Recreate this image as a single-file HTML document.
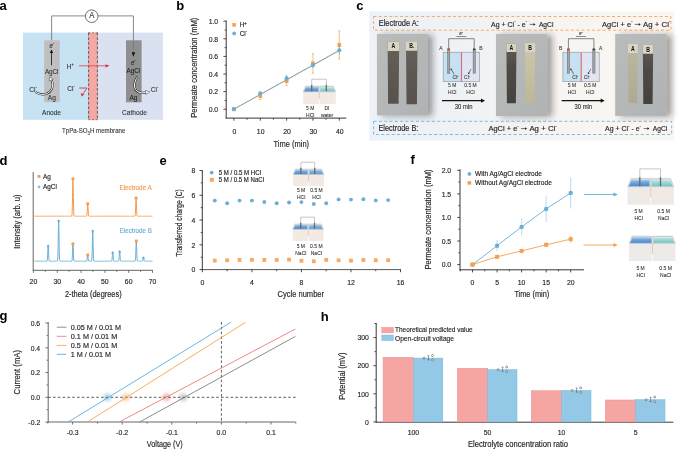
<!DOCTYPE html><html><head><meta charset="utf-8"><style>html,body{margin:0;padding:0;background:#fff;overflow:hidden}svg{display:block}text{font-family:"Liberation Sans",sans-serif}</style></head><body>
<svg width="685" height="449" viewBox="0 0 685 449" style="will-change:transform;filter:blur(0.3px)">
<defs>
<linearGradient id="cbg" x1="0" y1="0" x2="1" y2="0"><stop offset="0" stop-color="#ecf2f7"/><stop offset="0.3" stop-color="#eff2f5"/><stop offset="0.6" stop-color="#f7f4f1"/><stop offset="1" stop-color="#fbf6f2"/></linearGradient>
<filter id="sh" x="-30%" y="-20%" width="170%" height="150%"><feDropShadow dx="5" dy="0.8" stdDeviation="3" flood-color="#222" flood-opacity="0.42"/></filter>
<filter id="bl" x="-50%" y="-50%" width="200%" height="200%"><feGaussianBlur stdDeviation="1.6"/></filter>
<linearGradient id="pbg" x1="0" y1="0" x2="1" y2="1"><stop offset="0" stop-color="#b9bcbb"/><stop offset="1" stop-color="#b0b3b3"/></linearGradient>
<linearGradient id="sd1" x1="0" y1="0" x2="0" y2="1"><stop offset="0" stop-color="#67625c"/><stop offset="0.5" stop-color="#5d5852"/><stop offset="1" stop-color="#57524d"/></linearGradient>
<linearGradient id="sd2" x1="0" y1="0" x2="0" y2="1"><stop offset="0" stop-color="#605c57"/><stop offset="0.4" stop-color="#4e4b47"/><stop offset="1" stop-color="#45423e"/></linearGradient>
<linearGradient id="sl2" x1="0" y1="0" x2="0" y2="1"><stop offset="0" stop-color="#cdc8aa"/><stop offset="1" stop-color="#bcb797"/></linearGradient>
<linearGradient id="sl3" x1="0" y1="0" x2="0" y2="1"><stop offset="0" stop-color="#bdb9a0"/><stop offset="1" stop-color="#adaa91"/></linearGradient>
<linearGradient id="tank" x1="0" y1="0" x2="0" y2="1"><stop offset="0" stop-color="#efe7e0"/><stop offset="1" stop-color="#f6f1ec"/></linearGradient>
<linearGradient id="liqB" x1="0" y1="0" x2="0" y2="1"><stop offset="0" stop-color="#b0d2ef"/><stop offset="0.35" stop-color="#70a8de"/><stop offset="1" stop-color="#4586cd"/></linearGradient>
<linearGradient id="liqB2" x1="0" y1="0" x2="0" y2="1"><stop offset="0" stop-color="#bcd9ee"/><stop offset="0.35" stop-color="#7fb2dc"/><stop offset="1" stop-color="#5d9bd0"/></linearGradient>
<linearGradient id="liqT" x1="0" y1="0" x2="0" y2="1"><stop offset="0" stop-color="#d2efed"/><stop offset="0.35" stop-color="#9fd9d7"/><stop offset="1" stop-color="#74c2c4"/></linearGradient>
</defs>
<text x="-0.6" y="9.6" font-size="13" font-weight="bold" fill="#000">a</text>
<rect x="23.00" y="32.60" width="65.50" height="87.20" fill="#c6e2f3" />
<rect x="97.50" y="32.60" width="65.50" height="87.20" fill="#dae2f2" />
<rect x="88.40" y="32.60" width="9.20" height="87.20" fill="#f5a7a4" />
<line x1="88.60" y1="32.60" x2="88.60" y2="120.00" stroke="#4a4a4a" stroke-width="0.85" stroke-dasharray="3,1.6"/>
<line x1="97.40" y1="32.60" x2="97.40" y2="120.00" stroke="#4a4a4a" stroke-width="0.85" stroke-dasharray="3,1.6"/>
<line x1="88.40" y1="32.90" x2="97.60" y2="32.90" stroke="#4a4a4a" stroke-width="0.7" stroke-dasharray="2,1.6"/>
<line x1="88.40" y1="119.70" x2="97.60" y2="119.70" stroke="#4a4a4a" stroke-width="0.7" stroke-dasharray="2,1.6"/>
<rect x="44.10" y="40.30" width="15.60" height="62.00" fill="#bfbfbf" />
<rect x="126.00" y="40.30" width="15.60" height="62.00" fill="#8f8f8f" />
<path d="M51.6,40.3 V15.9 H85.4" fill="none" stroke="#7a7a7a" stroke-width="0.9" />
<path d="M98,15.9 H133.4 V53" fill="none" stroke="#7a7a7a" stroke-width="0.9" />
<circle cx="91.70" cy="16.20" r="6.30" fill="#fff" stroke="#444" stroke-width="0.75"/>
<text transform="translate(91.80,15.50) scale(0.89,1)" y="2.96" font-size="8.6" text-anchor="middle" fill="#333" stroke="#333" stroke-width="0.1" >A</text>
<path d="M131.6,52.2 L135.2,52.2 L133.4,56.8 Z" fill="#111" stroke="none" stroke-width="1" />
<text transform="translate(51.80,45.30) scale(0.89,1)" y="2.34" font-size="6.8" text-anchor="middle" fill="#222" stroke="#222" stroke-width="0.1" font-style="italic">e<tspan font-size="4.5" dy="-2.8">-</tspan></text>
<line x1="51.50" y1="65.30" x2="51.50" y2="52.50" stroke="#111" stroke-width="0.8" />
<path d="M49.8,53 L53.2,53 L51.5,49.5 Z" fill="#111" stroke="none" stroke-width="1" />
<text transform="translate(51.70,71.00)" y="2.55" font-size="7.4" text-anchor="middle" fill="#333" stroke="#333" stroke-width="0.1" textLength="13.6" lengthAdjust="spacingAndGlyphs" >AgCl</text>
<text transform="translate(51.90,97.40) scale(0.89,1)" y="2.55" font-size="7.4" text-anchor="middle" fill="#333" stroke="#333" stroke-width="0.1" >Ag</text>
<text transform="translate(33.00,89.00) scale(0.89,1)" y="2.55" font-size="7.4" text-anchor="middle" fill="#333" stroke="#333" stroke-width="0.1" >Cl<tspan font-size="4.5" dy="-2.8">-</tspan></text>
<path d="M35.6,92.2 C39,94.5 42,94.6 45,94.2 C48.5,93.5 51.5,91 52.4,87 C53,84.5 52.6,82.2 51.6,80.2" fill="none" stroke="#2a2a2a" stroke-width="2.1" />
<path d="M35.6,92.2 C39,94.5 42,94.6 45,94.2 C48.5,93.5 51.5,91 52.4,87 C53,84.5 52.6,82.2 51.6,80.2" fill="none" stroke="#fff" stroke-width="1.0" />
<path d="M49.7,76.9 L53.2,79.3 L49.2,80.9 Z" fill="#fff" stroke="#2a2a2a" stroke-width="0.45" />
<text transform="translate(70.30,66.00) scale(0.89,1)" y="2.55" font-size="7.4" text-anchor="middle" fill="#333" stroke="#333" stroke-width="0.1" >H<tspan font-size="4.5" dy="-2.6">+</tspan></text>
<text transform="translate(71.00,88.60) scale(0.89,1)" y="2.55" font-size="7.4" text-anchor="middle" fill="#333" stroke="#333" stroke-width="0.1" >Cl<tspan font-size="4.5" dy="-2.8">-</tspan></text>
<line x1="79.00" y1="65.80" x2="106.50" y2="65.80" stroke="#e0505a" stroke-width="0.9" />
<path d="M105.5,64.2 L109.5,65.8 L105.5,67.4 Z" fill="#d9303d" stroke="none" stroke-width="1" />
<path d="M79.3,88 L87,88 L82.5,94.5" fill="none" stroke="#d9303d" stroke-width="0.9" />
<path d="M80.7,93.2 L81.6,96.6 L84.3,94.6 Z" fill="#d9303d" stroke="none" stroke-width="1" />
<text transform="translate(133.30,62.80) scale(0.89,1)" y="2.34" font-size="6.8" text-anchor="middle" fill="#222" stroke="#222" stroke-width="0.1" font-style="italic">e<tspan font-size="4.5" dy="-2.8">-</tspan></text>
<text transform="translate(133.40,70.70)" y="2.55" font-size="7.4" text-anchor="middle" fill="#222" stroke="#222" stroke-width="0.1" textLength="13.6" lengthAdjust="spacingAndGlyphs" >AgCl</text>
<text transform="translate(133.50,97.20) scale(0.89,1)" y="2.55" font-size="7.4" text-anchor="middle" fill="#222" stroke="#222" stroke-width="0.1" >Ag</text>
<path d="M137.8,76.6 C135.5,79 134.2,83 134.6,87 C135.2,90.5 138,92.6 141.5,92.8 L146,92.6" fill="none" stroke="#2a2a2a" stroke-width="2.1" />
<path d="M137.8,76.6 C135.5,79 134.2,83 134.6,87 C135.2,90.5 138,92.6 141.5,92.8 L146,92.6" fill="none" stroke="#fff" stroke-width="1.0" />
<path d="M145.6,90.4 L149.9,91.9 L146,94.5 Z" fill="#fff" stroke="#2a2a2a" stroke-width="0.45" />
<text transform="translate(154.60,89.40) scale(0.89,1)" y="2.55" font-size="7.4" text-anchor="middle" fill="#333" stroke="#333" stroke-width="0.1" >Cl<tspan font-size="4.5" dy="-2.8">-</tspan></text>
<text transform="translate(51.50,112.30)" y="2.55" font-size="7.4" text-anchor="middle" fill="#333" stroke="#333" stroke-width="0.1" textLength="19" lengthAdjust="spacingAndGlyphs" >Anode</text>
<text transform="translate(134.50,112.40) scale(0.89,1)" y="2.55" font-size="7.4" text-anchor="middle" fill="#333" stroke="#333" stroke-width="0.1" >Cathode</text>
<text transform="translate(93.70,130.65)" y="2.34" font-size="6.8" text-anchor="middle" fill="#333" stroke="#333" stroke-width="0.1" textLength="63.4" lengthAdjust="spacingAndGlyphs" >TpPa-SO<tspan font-size="4.6" dy="1.8">3</tspan><tspan dy="-1.8">H membrane</tspan></text>
<text x="176.3" y="9.6" font-size="13" font-weight="bold" fill="#000">b</text>
<line x1="226.20" y1="20.50" x2="226.20" y2="118.50" stroke="#231f20" stroke-width="0.9" />
<line x1="225.80" y1="118.10" x2="346.30" y2="118.10" stroke="#231f20" stroke-width="0.9" />
<line x1="223.40" y1="109.20" x2="226.20" y2="109.20" stroke="#231f20" stroke-width="0.8" />
<line x1="224.60" y1="100.40" x2="226.20" y2="100.40" stroke="#231f20" stroke-width="0.8" />
<line x1="223.40" y1="91.60" x2="226.20" y2="91.60" stroke="#231f20" stroke-width="0.8" />
<line x1="224.60" y1="82.80" x2="226.20" y2="82.80" stroke="#231f20" stroke-width="0.8" />
<line x1="223.40" y1="74.00" x2="226.20" y2="74.00" stroke="#231f20" stroke-width="0.8" />
<line x1="224.60" y1="65.20" x2="226.20" y2="65.20" stroke="#231f20" stroke-width="0.8" />
<line x1="223.40" y1="56.40" x2="226.20" y2="56.40" stroke="#231f20" stroke-width="0.8" />
<line x1="224.60" y1="47.60" x2="226.20" y2="47.60" stroke="#231f20" stroke-width="0.8" />
<line x1="223.40" y1="38.80" x2="226.20" y2="38.80" stroke="#231f20" stroke-width="0.8" />
<line x1="224.60" y1="30.00" x2="226.20" y2="30.00" stroke="#231f20" stroke-width="0.8" />
<line x1="223.40" y1="21.20" x2="226.20" y2="21.20" stroke="#231f20" stroke-width="0.8" />
<text transform="translate(218.20,109.20) scale(0.86,1)" y="2.75" font-size="8" text-anchor="end" fill="#231f20" stroke="#231f20" stroke-width="0.16" >0.0</text>
<text transform="translate(218.20,91.60) scale(0.86,1)" y="2.75" font-size="8" text-anchor="end" fill="#231f20" stroke="#231f20" stroke-width="0.16" >0.2</text>
<text transform="translate(218.20,74.00) scale(0.86,1)" y="2.75" font-size="8" text-anchor="end" fill="#231f20" stroke="#231f20" stroke-width="0.16" >0.4</text>
<text transform="translate(218.20,56.40) scale(0.86,1)" y="2.75" font-size="8" text-anchor="end" fill="#231f20" stroke="#231f20" stroke-width="0.16" >0.6</text>
<text transform="translate(218.20,38.80) scale(0.86,1)" y="2.75" font-size="8" text-anchor="end" fill="#231f20" stroke="#231f20" stroke-width="0.16" >0.8</text>
<text transform="translate(218.20,21.20) scale(0.86,1)" y="2.75" font-size="8" text-anchor="end" fill="#231f20" stroke="#231f20" stroke-width="0.16" >1.0</text>
<line x1="233.90" y1="118.10" x2="233.90" y2="120.70" stroke="#231f20" stroke-width="0.8" />
<line x1="247.08" y1="118.10" x2="247.08" y2="119.70" stroke="#231f20" stroke-width="0.8" />
<line x1="260.25" y1="118.10" x2="260.25" y2="120.70" stroke="#231f20" stroke-width="0.8" />
<line x1="273.43" y1="118.10" x2="273.43" y2="119.70" stroke="#231f20" stroke-width="0.8" />
<line x1="286.60" y1="118.10" x2="286.60" y2="120.70" stroke="#231f20" stroke-width="0.8" />
<line x1="299.77" y1="118.10" x2="299.77" y2="119.70" stroke="#231f20" stroke-width="0.8" />
<line x1="312.95" y1="118.10" x2="312.95" y2="120.70" stroke="#231f20" stroke-width="0.8" />
<line x1="326.12" y1="118.10" x2="326.12" y2="119.70" stroke="#231f20" stroke-width="0.8" />
<line x1="339.30" y1="118.10" x2="339.30" y2="120.70" stroke="#231f20" stroke-width="0.8" />
<text transform="translate(234.30,131.70) scale(0.86,1)" y="2.75" font-size="8" text-anchor="middle" fill="#231f20" stroke="#231f20" stroke-width="0.16" >0</text>
<text transform="translate(260.65,131.70) scale(0.86,1)" y="2.75" font-size="8" text-anchor="middle" fill="#231f20" stroke="#231f20" stroke-width="0.16" >10</text>
<text transform="translate(287.00,131.70) scale(0.86,1)" y="2.75" font-size="8" text-anchor="middle" fill="#231f20" stroke="#231f20" stroke-width="0.16" >20</text>
<text transform="translate(313.35,131.70) scale(0.86,1)" y="2.75" font-size="8" text-anchor="middle" fill="#231f20" stroke="#231f20" stroke-width="0.16" >30</text>
<text transform="translate(339.70,131.70) scale(0.86,1)" y="2.75" font-size="8" text-anchor="middle" fill="#231f20" stroke="#231f20" stroke-width="0.16" >40</text>
<text transform="translate(291.30,144.10)" y="2.89" font-size="8.4" text-anchor="middle" fill="#231f20" stroke="#231f20" stroke-width="0.16" textLength="35.5" lengthAdjust="spacingAndGlyphs" >Time (min)</text>
<text transform="translate(194.10,67.70) rotate(-90)" y="2.89" font-size="8.4" text-anchor="middle" fill="#231f20" stroke="#231f20" stroke-width="0.16" textLength="100" lengthAdjust="spacingAndGlyphs" >Permeate concentration (mM)</text>
<rect x="232.30" y="23.10" width="3.60" height="3.60" fill="#f5a04a" />
<text transform="translate(239.70,24.90) scale(0.89,1)" y="2.48" font-size="7.2" text-anchor="start" fill="#231f20" stroke="#231f20" stroke-width="0.16" >H<tspan font-size="4.6" dy="-2.6">+</tspan></text>
<circle cx="234.20" cy="33.40" r="1.90" fill="#6aafd6" />
<text transform="translate(239.70,33.40) scale(0.89,1)" y="2.48" font-size="7.2" text-anchor="start" fill="#231f20" stroke="#231f20" stroke-width="0.16" >Cl<tspan font-size="4.6" dy="-2.6">-</tspan></text>
<line x1="233.90" y1="109.20" x2="339.30" y2="50.68" stroke="#f5a04a" stroke-width="0.9" />
<line x1="233.90" y1="109.20" x2="339.30" y2="50.24" stroke="#6aafd6" stroke-width="0.9" />
<rect x="232.00" y="107.30" width="3.80" height="3.80" fill="#f5a04a" />
<line x1="260.25" y1="92.48" x2="260.25" y2="99.52" stroke="#f5a04a" stroke-width="0.7" />
<line x1="259.25" y1="92.48" x2="261.25" y2="92.48" stroke="#f5a04a" stroke-width="0.7" />
<line x1="259.25" y1="99.52" x2="261.25" y2="99.52" stroke="#f5a04a" stroke-width="0.7" />
<rect x="258.35" y="94.10" width="3.80" height="3.80" fill="#f5a04a" />
<line x1="286.60" y1="76.64" x2="286.60" y2="85.44" stroke="#f5a04a" stroke-width="0.7" />
<line x1="285.60" y1="76.64" x2="287.60" y2="76.64" stroke="#f5a04a" stroke-width="0.7" />
<line x1="285.60" y1="85.44" x2="287.60" y2="85.44" stroke="#f5a04a" stroke-width="0.7" />
<rect x="284.70" y="79.14" width="3.80" height="3.80" fill="#f5a04a" />
<line x1="312.95" y1="53.76" x2="312.95" y2="73.12" stroke="#f5a04a" stroke-width="0.7" />
<line x1="311.95" y1="53.76" x2="313.95" y2="53.76" stroke="#f5a04a" stroke-width="0.7" />
<line x1="311.95" y1="73.12" x2="313.95" y2="73.12" stroke="#f5a04a" stroke-width="0.7" />
<rect x="311.05" y="61.54" width="3.80" height="3.80" fill="#f5a04a" />
<line x1="339.30" y1="30.88" x2="339.30" y2="59.04" stroke="#f5a04a" stroke-width="0.7" />
<line x1="338.30" y1="30.88" x2="340.30" y2="30.88" stroke="#f5a04a" stroke-width="0.7" />
<line x1="338.30" y1="59.04" x2="340.30" y2="59.04" stroke="#f5a04a" stroke-width="0.7" />
<rect x="337.40" y="43.06" width="3.80" height="3.80" fill="#f5a04a" />
<circle cx="233.90" cy="109.20" r="2.10" fill="#6aafd6" />
<line x1="260.25" y1="91.60" x2="260.25" y2="95.12" stroke="#6aafd6" stroke-width="0.7" />
<circle cx="260.25" cy="93.36" r="2.10" fill="#6aafd6" />
<line x1="286.60" y1="74.88" x2="286.60" y2="81.92" stroke="#6aafd6" stroke-width="0.7" />
<circle cx="286.60" cy="78.40" r="2.10" fill="#6aafd6" />
<line x1="312.95" y1="62.56" x2="312.95" y2="67.84" stroke="#6aafd6" stroke-width="0.7" />
<circle cx="312.95" cy="65.20" r="2.10" fill="#6aafd6" />
<line x1="339.30" y1="45.84" x2="339.30" y2="54.64" stroke="#6aafd6" stroke-width="0.7" />
<circle cx="339.30" cy="50.24" r="2.10" fill="#6aafd6" />
<text x="356.3" y="9.6" font-size="13" font-weight="bold" fill="#000">c</text>
<rect x="369.30" y="11.50" width="304.90" height="129.00" fill="url(#cbg)" />
<rect x="373.5" y="16.5" width="297.4" height="13.7" fill="none" stroke="#f5a55a" stroke-width="0.9" stroke-dasharray="3,2.3"/>
<rect x="373.6" y="121.3" width="298.1" height="13.2" fill="none" stroke="#6cb6e2" stroke-width="0.9" stroke-dasharray="3,2.3"/>
<text transform="translate(378.70,23.10)" y="2.89" font-size="8.4" text-anchor="start" fill="#231f20" stroke="#231f20" stroke-width="0.16" textLength="40.1" lengthAdjust="spacingAndGlyphs" >Electrode A:</text>
<text transform="translate(378.50,128.20)" y="2.89" font-size="8.4" text-anchor="start" fill="#231f20" stroke="#231f20" stroke-width="0.16" textLength="39.8" lengthAdjust="spacingAndGlyphs" >Electrode B:</text>
<text transform="translate(491.10,24.00)" y="2.70" font-size="7.85" text-anchor="start" fill="#231f20" stroke="#231f20" stroke-width="0.16" textLength="36" lengthAdjust="spacingAndGlyphs" >Ag + Cl<tspan font-size="4.8" dy="-3.3">-</tspan><tspan dy="3.3"> </tspan>- e<tspan font-size="4.8" dy="-3.3">-</tspan><tspan dy="3.3"> </tspan></text>
<line x1="529.70" y1="24.40" x2="533.90" y2="24.40" stroke="#231f20" stroke-width="0.6" />
<path d="M533.50,23.10 L535.50,24.40 L533.50,25.70 Z" fill="#231f20" stroke="none" stroke-width="1" />
<text transform="translate(538.90,24.00)" y="2.70" font-size="7.85" text-anchor="start" fill="#231f20" stroke="#231f20" stroke-width="0.16" textLength="14.5" lengthAdjust="spacingAndGlyphs" >AgCl</text>
<text transform="translate(602.10,24.00)" y="2.70" font-size="7.85" text-anchor="start" fill="#231f20" stroke="#231f20" stroke-width="0.16" textLength="30.5" lengthAdjust="spacingAndGlyphs" >AgCl + e<tspan font-size="4.8" dy="-3.3">-</tspan><tspan dy="3.3"> </tspan></text>
<line x1="634.70" y1="24.40" x2="639.10" y2="24.40" stroke="#231f20" stroke-width="0.6" />
<path d="M638.70,23.10 L640.70,24.40 L638.70,25.70 Z" fill="#231f20" stroke="none" stroke-width="1" />
<text transform="translate(643.10,24.00)" y="2.70" font-size="7.85" text-anchor="start" fill="#231f20" stroke="#231f20" stroke-width="0.16" textLength="27.5" lengthAdjust="spacingAndGlyphs" >Ag + Cl<tspan font-size="4.8" dy="-3.3">-</tspan><tspan dy="3.3"> </tspan></text>
<text transform="translate(488.40,128.20)" y="2.70" font-size="7.85" text-anchor="start" fill="#231f20" stroke="#231f20" stroke-width="0.16" textLength="30.5" lengthAdjust="spacingAndGlyphs" >AgCl + e<tspan font-size="4.8" dy="-3.3">-</tspan><tspan dy="3.3"> </tspan></text>
<line x1="521.00" y1="128.60" x2="525.40" y2="128.60" stroke="#231f20" stroke-width="0.6" />
<path d="M525.00,127.30 L527.00,128.60 L525.00,129.90 Z" fill="#231f20" stroke="none" stroke-width="1" />
<text transform="translate(529.40,128.20)" y="2.70" font-size="7.85" text-anchor="start" fill="#231f20" stroke="#231f20" stroke-width="0.16" textLength="27.5" lengthAdjust="spacingAndGlyphs" >Ag + Cl<tspan font-size="4.8" dy="-3.3">-</tspan><tspan dy="3.3"> </tspan></text>
<text transform="translate(605.00,128.20)" y="2.70" font-size="7.85" text-anchor="start" fill="#231f20" stroke="#231f20" stroke-width="0.16" textLength="36" lengthAdjust="spacingAndGlyphs" >Ag + Cl<tspan font-size="4.8" dy="-3.3">-</tspan><tspan dy="3.3"> </tspan>- e<tspan font-size="4.8" dy="-3.3">-</tspan><tspan dy="3.3"> </tspan></text>
<line x1="643.60" y1="128.60" x2="647.80" y2="128.60" stroke="#231f20" stroke-width="0.6" />
<path d="M647.40,127.30 L649.40,128.60 L647.40,129.90 Z" fill="#231f20" stroke="none" stroke-width="1" />
<text transform="translate(652.80,128.20)" y="2.70" font-size="7.85" text-anchor="start" fill="#231f20" stroke="#231f20" stroke-width="0.16" textLength="14.5" lengthAdjust="spacingAndGlyphs" >AgCl</text>
<g filter="url(#sh)"><rect x="377" y="33.9" width="50.8" height="81.5" fill="url(#pbg)"/></g>
<path d="M387.6,41.6 L399.20000000000005,41.6 L398.6,103.80000000000001 L388.1,103.80000000000001 Z" fill="url(#sd1)"/>
<path d="M387.6,41.6 L399.20000000000005,41.6 L399.15000000000003,51.1 L387.6,51.1 Z" fill="#d9d5c3"/>
<text transform="translate(393.40,45.90) scale(0.8,1)" y="2.20" font-size="6.4" text-anchor="middle" fill="#111" font-weight="bold" >A</text>
<path d="M406,41.3 L417.5,41.3 L416.9,104.3 L406.5,104.3 Z" fill="url(#sd1)"/>
<path d="M406,41.3 L417.5,41.3 L417.45,50.8 L406,50.8 Z" fill="#d9d5c3"/>
<text transform="translate(411.75,45.60) scale(0.8,1)" y="2.20" font-size="6.4" text-anchor="middle" fill="#111" font-weight="bold" >B.</text>
<g filter="url(#sh)"><rect x="496" y="33.9" width="51.2" height="82.2" fill="url(#pbg)"/></g>
<path d="M506.4,43.7 L516.5,43.7 L515.9,103.30000000000001 L506.9,103.30000000000001 Z" fill="url(#sd2)"/>
<path d="M506.4,43.7 L516.5,43.7 L516.45,52.0 L506.4,52.0 Z" fill="#d9d5c3"/>
<text transform="translate(511.45,48.00) scale(0.8,1)" y="2.20" font-size="6.4" text-anchor="middle" fill="#111" font-weight="bold" >A</text>
<path d="M525.1,43.2 L535.2,43.2 L534.6,103.2 L525.6,103.2 Z" fill="url(#sl2)"/>
<path d="M525.1,43.2 L535.2,43.2 L535.1500000000001,52.0 L525.1,52.0 Z" fill="#d9d5c3"/>
<text transform="translate(530.15,47.50) scale(0.8,1)" y="2.20" font-size="6.4" text-anchor="middle" fill="#111" font-weight="bold" >B</text>
<g filter="url(#sh)"><rect x="615.2" y="33.9" width="51.4" height="82" fill="url(#pbg)"/></g>
<path d="M628,44 L637.8,44 L637.1999999999999,103.3 L628.5,103.3 Z" fill="url(#sl3)"/>
<path d="M628,44 L637.8,44 L637.75,53 L628,53 Z" fill="#d9d5c3"/>
<text transform="translate(632.90,48.30) scale(0.8,1)" y="2.20" font-size="6.4" text-anchor="middle" fill="#111" font-weight="bold" >A</text>
<path d="M642.8,45 L653.1999999999999,45 L652.5999999999999,104 L643.3,104 Z" fill="url(#sd2)"/>
<path d="M642.8,45 L653.1999999999999,45 L653.15,53.7 L642.8,53.7 Z" fill="#d9d5c3"/>
<text transform="translate(648.00,49.30) scale(0.8,1)" y="2.20" font-size="6.4" text-anchor="middle" fill="#111" font-weight="bold" >B</text>
<rect x="443.20" y="52.20" width="17.90" height="29.50" fill="#c5e1f2" />
<rect x="461.10" y="52.20" width="18.40" height="29.50" fill="#e1e5f3" />
<rect x="443.2" y="52.2" width="36.3" height="29.5" fill="none" stroke="#8c939c" stroke-width="0.6"/>
<line x1="461.50" y1="52.40" x2="461.50" y2="81.50" stroke="#d5707c" stroke-width="1.2" />
<path d="M448.7,49 V38.7 H474.2 V49" fill="none" stroke="#555" stroke-width="0.7" />
<rect x="447.6" y="48.8" width="2.2" height="24.4" fill="#a5a5a5" stroke="#5a5a5a" stroke-width="0.45"/>
<rect x="447.60" y="48.80" width="2.20" height="1.40" fill="#d33" />
<rect x="473.1" y="48.8" width="2.2" height="24.4" fill="#a5a5a5" stroke="#5a5a5a" stroke-width="0.45"/>
<rect x="473.10" y="48.80" width="2.20" height="1.40" fill="#333" />
<text transform="translate(461.00,33.60) scale(0.89,1)" y="1.79" font-size="5.2" text-anchor="middle" fill="#333" stroke="#333" stroke-width="0.08" font-style="italic">e<tspan font-size="3.5" dy="-2">-</tspan></text>
<line x1="456.30" y1="36.50" x2="466.40" y2="36.50" stroke="#444" stroke-width="0.6" />
<text transform="translate(441.00,48.50) scale(0.89,1)" y="1.93" font-size="5.6" text-anchor="middle" fill="#333" stroke="#333" stroke-width="0.08" >A</text>
<text transform="translate(481.00,48.50) scale(0.89,1)" y="1.93" font-size="5.6" text-anchor="middle" fill="#333" stroke="#333" stroke-width="0.08" >B</text>
<line x1="454.10" y1="74.20" x2="451.40" y2="69.50" stroke="#222" stroke-width="0.6" />
<circle cx="451.20" cy="69.20" r="0.80" fill="#222" />
<line x1="468.60" y1="73.50" x2="471.00" y2="69.10" stroke="#222" stroke-width="0.6" />
<circle cx="468.80" cy="73.20" r="0.80" fill="#222" />
<text transform="translate(455.50,76.70) scale(0.89,1)" y="1.93" font-size="5.6" text-anchor="middle" fill="#333" stroke="#333" stroke-width="0.08" >Cl<tspan font-size="3.5" dy="-2">-</tspan></text>
<text transform="translate(467.00,76.70) scale(0.89,1)" y="1.93" font-size="5.6" text-anchor="middle" fill="#333" stroke="#333" stroke-width="0.08" >Cl<tspan font-size="3.5" dy="-2">-</tspan></text>
<text transform="translate(452.20,85.50) scale(0.89,1)" y="1.93" font-size="5.6" text-anchor="middle" fill="#333" stroke="#333" stroke-width="0.08" >5 M</text>
<text transform="translate(452.20,92.20) scale(0.89,1)" y="1.93" font-size="5.6" text-anchor="middle" fill="#333" stroke="#333" stroke-width="0.08" >HCl</text>
<text transform="translate(470.50,85.50) scale(0.89,1)" y="1.93" font-size="5.6" text-anchor="middle" fill="#333" stroke="#333" stroke-width="0.08" >0.5 M</text>
<text transform="translate(470.50,92.20) scale(0.89,1)" y="1.93" font-size="5.6" text-anchor="middle" fill="#333" stroke="#333" stroke-width="0.08" >HCl</text>
<line x1="442.00" y1="100.70" x2="482.00" y2="100.70" stroke="#111" stroke-width="1.3" />
<path d="M481,98.6 L485,100.7 L481,102.8 Z" fill="#111" stroke="none" stroke-width="1" />
<text transform="translate(463.60,106.60) scale(0.89,1)" y="2.27" font-size="6.6" text-anchor="middle" fill="#222" stroke="#222" stroke-width="0.08" >30 min</text>
<rect x="562.90" y="52.20" width="17.90" height="29.50" fill="#c5e1f2" />
<rect x="580.80" y="52.20" width="18.40" height="29.50" fill="#e1e5f3" />
<rect x="562.9" y="52.2" width="36.3" height="29.5" fill="none" stroke="#8c939c" stroke-width="0.6"/>
<line x1="581.20" y1="52.40" x2="581.20" y2="81.50" stroke="#d5707c" stroke-width="1.2" />
<path d="M568.4,49 V38.7 H593.9 V49" fill="none" stroke="#555" stroke-width="0.7" />
<rect x="567.3000000000001" y="48.8" width="2.2" height="24.4" fill="#a5a5a5" stroke="#5a5a5a" stroke-width="0.45"/>
<rect x="567.30" y="48.80" width="2.20" height="1.40" fill="#d33" />
<rect x="592.8000000000001" y="48.8" width="2.2" height="24.4" fill="#a5a5a5" stroke="#5a5a5a" stroke-width="0.45"/>
<rect x="592.80" y="48.80" width="2.20" height="1.40" fill="#333" />
<text transform="translate(580.70,33.60) scale(0.89,1)" y="1.79" font-size="5.2" text-anchor="middle" fill="#333" stroke="#333" stroke-width="0.08" font-style="italic">e<tspan font-size="3.5" dy="-2">-</tspan></text>
<line x1="576.00" y1="36.50" x2="586.10" y2="36.50" stroke="#444" stroke-width="0.6" />
<text transform="translate(560.70,48.50) scale(0.89,1)" y="1.93" font-size="5.6" text-anchor="middle" fill="#333" stroke="#333" stroke-width="0.08" >B</text>
<text transform="translate(600.70,48.50) scale(0.89,1)" y="1.93" font-size="5.6" text-anchor="middle" fill="#333" stroke="#333" stroke-width="0.08" >A</text>
<line x1="573.80" y1="74.20" x2="571.10" y2="69.50" stroke="#222" stroke-width="0.6" />
<circle cx="570.90" cy="69.20" r="0.80" fill="#222" />
<line x1="588.30" y1="73.50" x2="590.70" y2="69.10" stroke="#222" stroke-width="0.6" />
<circle cx="588.50" cy="73.20" r="0.80" fill="#222" />
<text transform="translate(575.20,76.70) scale(0.89,1)" y="1.93" font-size="5.6" text-anchor="middle" fill="#333" stroke="#333" stroke-width="0.08" >Cl<tspan font-size="3.5" dy="-2">-</tspan></text>
<text transform="translate(586.70,76.70) scale(0.89,1)" y="1.93" font-size="5.6" text-anchor="middle" fill="#333" stroke="#333" stroke-width="0.08" >Cl<tspan font-size="3.5" dy="-2">-</tspan></text>
<text transform="translate(571.90,85.50) scale(0.89,1)" y="1.93" font-size="5.6" text-anchor="middle" fill="#333" stroke="#333" stroke-width="0.08" >5 M</text>
<text transform="translate(571.90,92.20) scale(0.89,1)" y="1.93" font-size="5.6" text-anchor="middle" fill="#333" stroke="#333" stroke-width="0.08" >HCl</text>
<text transform="translate(590.20,85.50) scale(0.89,1)" y="1.93" font-size="5.6" text-anchor="middle" fill="#333" stroke="#333" stroke-width="0.08" >0.5 M</text>
<text transform="translate(590.20,92.20) scale(0.89,1)" y="1.93" font-size="5.6" text-anchor="middle" fill="#333" stroke="#333" stroke-width="0.08" >HCl</text>
<line x1="561.70" y1="100.70" x2="601.70" y2="100.70" stroke="#111" stroke-width="1.3" />
<path d="M600.7,98.6 L604.7,100.7 L600.7,102.8 Z" fill="#111" stroke="none" stroke-width="1" />
<text transform="translate(583.30,106.60) scale(0.89,1)" y="2.27" font-size="6.6" text-anchor="middle" fill="#222" stroke="#222" stroke-width="0.08" >30 min</text>
<text x="-0.6" y="164.5" font-size="13" font-weight="bold" fill="#000">d</text>
<line x1="33.20" y1="172.00" x2="33.20" y2="270.60" stroke="#555" stroke-width="0.9" />
<line x1="32.80" y1="270.30" x2="153.00" y2="270.30" stroke="#555" stroke-width="0.9" />
<line x1="33.40" y1="270.30" x2="33.40" y2="272.90" stroke="#555" stroke-width="0.8" />
<line x1="45.31" y1="270.30" x2="45.31" y2="271.90" stroke="#555" stroke-width="0.8" />
<line x1="57.22" y1="270.30" x2="57.22" y2="272.90" stroke="#555" stroke-width="0.8" />
<line x1="69.13" y1="270.30" x2="69.13" y2="271.90" stroke="#555" stroke-width="0.8" />
<line x1="81.04" y1="270.30" x2="81.04" y2="272.90" stroke="#555" stroke-width="0.8" />
<line x1="92.95" y1="270.30" x2="92.95" y2="271.90" stroke="#555" stroke-width="0.8" />
<line x1="104.86" y1="270.30" x2="104.86" y2="272.90" stroke="#555" stroke-width="0.8" />
<line x1="116.77" y1="270.30" x2="116.77" y2="271.90" stroke="#555" stroke-width="0.8" />
<line x1="128.68" y1="270.30" x2="128.68" y2="272.90" stroke="#555" stroke-width="0.8" />
<line x1="140.59" y1="270.30" x2="140.59" y2="271.90" stroke="#555" stroke-width="0.8" />
<line x1="152.50" y1="270.30" x2="152.50" y2="272.90" stroke="#555" stroke-width="0.8" />
<text transform="translate(33.40,281.70) scale(0.86,1)" y="2.75" font-size="8" text-anchor="middle" fill="#231f20" stroke="#231f20" stroke-width="0.16" >20</text>
<text transform="translate(57.22,281.70) scale(0.86,1)" y="2.75" font-size="8" text-anchor="middle" fill="#231f20" stroke="#231f20" stroke-width="0.16" >30</text>
<text transform="translate(81.04,281.70) scale(0.86,1)" y="2.75" font-size="8" text-anchor="middle" fill="#231f20" stroke="#231f20" stroke-width="0.16" >40</text>
<text transform="translate(104.86,281.70) scale(0.86,1)" y="2.75" font-size="8" text-anchor="middle" fill="#231f20" stroke="#231f20" stroke-width="0.16" >50</text>
<text transform="translate(128.68,281.70) scale(0.86,1)" y="2.75" font-size="8" text-anchor="middle" fill="#231f20" stroke="#231f20" stroke-width="0.16" >60</text>
<text transform="translate(152.50,281.70) scale(0.86,1)" y="2.75" font-size="8" text-anchor="middle" fill="#231f20" stroke="#231f20" stroke-width="0.16" >70</text>
<text transform="translate(93.25,294.50)" y="2.89" font-size="8.4" text-anchor="middle" fill="#231f20" stroke="#231f20" stroke-width="0.16" textLength="56.7" lengthAdjust="spacingAndGlyphs" >2-theta (degrees)</text>
<text transform="translate(17.40,221.70) rotate(-90)" y="2.89" font-size="8.4" text-anchor="middle" fill="#231f20" stroke="#231f20" stroke-width="0.16" textLength="54.2" lengthAdjust="spacingAndGlyphs" >Intensity (arb. u)</text>
<polyline points="33.40,216.20 33.60,216.20 33.80,216.20 34.00,216.20 34.19,216.20 34.39,216.20 34.59,216.20 34.79,216.20 34.99,216.20 35.19,216.20 35.38,216.20 35.58,216.20 35.78,216.20 35.98,216.20 36.18,216.20 36.38,216.20 36.58,216.20 36.77,216.20 36.97,216.20 37.17,216.20 37.37,216.20 37.57,216.20 37.77,216.20 37.97,216.20 38.16,216.20 38.36,216.20 38.56,216.20 38.76,216.20 38.96,216.20 39.16,216.20 39.35,216.20 39.55,216.20 39.75,216.20 39.95,216.20 40.15,216.20 40.35,216.20 40.55,216.20 40.74,216.20 40.94,216.20 41.14,216.20 41.34,216.20 41.54,216.20 41.74,216.20 41.94,216.20 42.13,216.20 42.33,216.20 42.53,216.20 42.73,216.20 42.93,216.20 43.13,216.20 43.33,216.20 43.52,216.20 43.72,216.20 43.92,216.20 44.12,216.20 44.32,216.20 44.52,216.20 44.71,216.20 44.91,216.20 45.11,216.20 45.31,216.20 45.51,216.20 45.71,216.20 45.91,216.20 46.10,216.20 46.30,216.20 46.50,216.20 46.70,216.20 46.90,216.20 47.10,216.20 47.29,216.20 47.49,216.20 47.69,216.20 47.89,216.20 48.09,216.20 48.29,216.20 48.49,216.20 48.68,216.20 48.88,216.20 49.08,216.20 49.28,216.20 49.48,216.20 49.68,216.20 49.88,216.20 50.07,216.20 50.27,216.20 50.47,216.20 50.67,216.20 50.87,216.20 51.07,216.20 51.27,216.20 51.46,216.20 51.66,216.20 51.86,216.20 52.06,216.20 52.26,216.20 52.46,216.20 52.65,216.20 52.85,216.20 53.05,216.20 53.25,216.20 53.45,216.20 53.65,216.20 53.85,216.20 54.04,216.20 54.24,216.20 54.44,216.20 54.64,216.20 54.84,216.20 55.04,216.20 55.23,216.20 55.43,216.20 55.63,216.20 55.83,216.20 56.03,216.20 56.23,216.20 56.43,216.20 56.62,216.20 56.82,216.20 57.02,216.20 57.22,216.20 57.42,216.20 57.62,216.20 57.82,216.20 58.01,216.20 58.21,216.20 58.41,216.20 58.61,216.20 58.81,216.20 59.01,216.20 59.20,216.20 59.40,216.20 59.60,216.20 59.80,216.20 60.00,216.20 60.20,216.20 60.40,216.20 60.59,216.20 60.79,216.20 60.99,216.20 61.19,216.20 61.39,216.20 61.59,216.20 61.79,216.20 61.98,216.20 62.18,216.20 62.38,216.20 62.58,216.20 62.78,216.20 62.98,216.20 63.17,216.20 63.37,216.20 63.57,216.20 63.77,216.20 63.97,216.20 64.17,216.20 64.37,216.20 64.56,216.20 64.76,216.20 64.96,216.20 65.16,216.20 65.36,216.20 65.56,216.20 65.76,216.20 65.95,216.20 66.15,216.20 66.35,216.20 66.55,216.20 66.75,216.20 66.95,216.20 67.14,216.20 67.34,216.20 67.54,216.20 67.74,216.20 67.94,216.20 68.14,216.20 68.34,216.20 68.53,216.20 68.73,216.20 68.93,216.20 69.13,216.20 69.33,216.20 69.53,216.20 69.73,216.20 69.92,216.20 70.12,216.20 70.32,216.20 70.52,216.20 70.72,216.20 70.92,216.20 71.12,216.20 71.31,216.20 71.51,216.18 71.71,216.05 71.91,215.43 72.11,213.24 72.31,207.64 72.50,197.62 72.70,185.94 72.90,179.21 73.10,182.26 73.30,192.83 73.50,204.12 73.70,211.51 73.89,214.84 74.09,215.90 74.29,216.15 74.49,216.19 74.69,216.20 74.89,216.20 75.08,216.20 75.28,216.20 75.48,216.20 75.68,216.20 75.88,216.20 76.08,216.20 76.28,216.20 76.47,216.20 76.67,216.20 76.87,216.20 77.07,216.20 77.27,216.20 77.47,216.20 77.67,216.20 77.86,216.20 78.06,216.20 78.26,216.20 78.46,216.20 78.66,216.20 78.86,216.20 79.06,216.20 79.25,216.20 79.45,216.20 79.65,216.20 79.85,216.20 80.05,216.20 80.25,216.20 80.44,216.20 80.64,216.20 80.84,216.20 81.04,216.20 81.24,216.20 81.44,216.20 81.64,216.20 81.83,216.20 82.03,216.20 82.23,216.20 82.43,216.20 82.63,216.20 82.83,216.20 83.02,216.20 83.22,216.20 83.42,216.20 83.62,216.20 83.82,216.20 84.02,216.20 84.22,216.20 84.41,216.20 84.61,216.20 84.81,216.20 85.01,216.20 85.21,216.20 85.41,216.20 85.61,216.20 85.80,216.20 86.00,216.20 86.20,216.20 86.40,216.18 86.60,216.06 86.80,215.61 86.99,214.30 87.19,211.57 87.39,207.75 87.59,204.61 87.79,204.28 87.99,206.99 88.19,210.86 88.38,213.88 88.58,215.44 88.78,216.01 88.98,216.17 89.18,216.20 89.38,216.20 89.58,216.20 89.77,216.20 89.97,216.20 90.17,216.20 90.37,216.20 90.57,216.20 90.77,216.20 90.97,216.20 91.16,216.20 91.36,216.20 91.56,216.20 91.76,216.20 91.96,216.20 92.16,216.20 92.35,216.20 92.55,216.20 92.75,216.20 92.95,216.20 93.15,216.20 93.35,216.20 93.55,216.20 93.74,216.20 93.94,216.20 94.14,216.20 94.34,216.20 94.54,216.20 94.74,216.20 94.93,216.20 95.13,216.20 95.33,216.20 95.53,216.20 95.73,216.20 95.93,216.20 96.13,216.20 96.32,216.20 96.52,216.20 96.72,216.20 96.92,216.20 97.12,216.20 97.32,216.20 97.52,216.20 97.71,216.20 97.91,216.20 98.11,216.20 98.31,216.20 98.51,216.20 98.71,216.20 98.91,216.20 99.10,216.20 99.30,216.20 99.50,216.20 99.70,216.20 99.90,216.20 100.10,216.20 100.29,216.20 100.49,216.20 100.69,216.20 100.89,216.20 101.09,216.20 101.29,216.20 101.49,216.20 101.68,216.20 101.88,216.20 102.08,216.20 102.28,216.20 102.48,216.20 102.68,216.20 102.88,216.20 103.07,216.20 103.27,216.20 103.47,216.20 103.67,216.20 103.87,216.20 104.07,216.20 104.26,216.20 104.46,216.20 104.66,216.20 104.86,216.20 105.06,216.20 105.26,216.20 105.46,216.20 105.65,216.20 105.85,216.20 106.05,216.20 106.25,216.20 106.45,216.20 106.65,216.20 106.84,216.20 107.04,216.20 107.24,216.20 107.44,216.20 107.64,216.20 107.84,216.20 108.04,216.20 108.23,216.20 108.43,216.20 108.63,216.20 108.83,216.20 109.03,216.20 109.23,216.20 109.43,216.20 109.62,216.20 109.82,216.20 110.02,216.20 110.22,216.20 110.42,216.20 110.62,216.20 110.81,216.20 111.01,216.20 111.21,216.20 111.41,216.20 111.61,216.20 111.81,216.20 112.01,216.20 112.20,216.20 112.40,216.20 112.60,216.20 112.80,216.20 113.00,216.20 113.20,216.20 113.40,216.20 113.59,216.20 113.79,216.20 113.99,216.20 114.19,216.20 114.39,216.20 114.59,216.20 114.78,216.20 114.98,216.20 115.18,216.20 115.38,216.20 115.58,216.20 115.78,216.20 115.98,216.20 116.17,216.20 116.37,216.20 116.57,216.20 116.77,216.20 116.97,216.20 117.17,216.20 117.37,216.20 117.56,216.20 117.76,216.20 117.96,216.20 118.16,216.20 118.36,216.20 118.56,216.20 118.75,216.20 118.95,216.20 119.15,216.20 119.35,216.20 119.55,216.20 119.75,216.20 119.95,216.20 120.14,216.20 120.34,216.20 120.54,216.20 120.74,216.20 120.94,216.20 121.14,216.20 121.34,216.20 121.53,216.20 121.73,216.20 121.93,216.20 122.13,216.20 122.33,216.20 122.53,216.20 122.72,216.20 122.92,216.20 123.12,216.20 123.32,216.20 123.52,216.20 123.72,216.20 123.92,216.20 124.11,216.20 124.31,216.20 124.51,216.20 124.71,216.20 124.91,216.20 125.11,216.20 125.31,216.20 125.50,216.20 125.70,216.20 125.90,216.20 126.10,216.20 126.30,216.20 126.50,216.20 126.69,216.20 126.89,216.20 127.09,216.20 127.29,216.20 127.49,216.20 127.69,216.20 127.89,216.20 128.08,216.20 128.28,216.20 128.48,216.20 128.68,216.20 128.88,216.20 129.08,216.20 129.28,216.20 129.47,216.20 129.67,216.20 129.87,216.20 130.07,216.20 130.27,216.20 130.47,216.20 130.66,216.20 130.86,216.20 131.06,216.20 131.26,216.20 131.46,216.20 131.66,216.20 131.86,216.20 132.05,216.20 132.25,216.20 132.45,216.20 132.65,216.20 132.85,216.20 133.05,216.20 133.25,216.20 133.44,216.20 133.64,216.20 133.84,216.20 134.04,216.20 134.24,216.20 134.44,216.20 134.63,216.19 134.83,216.13 135.03,215.83 135.23,214.77 135.43,212.06 135.63,207.21 135.83,201.56 136.02,198.30 136.22,199.78 136.42,204.89 136.62,210.36 136.82,213.93 137.02,215.54 137.22,216.06 137.41,216.18 137.61,216.20 137.81,216.20 138.01,216.20 138.21,216.20 138.41,216.20 138.60,216.20 138.80,216.20 139.00,216.20 139.20,216.20 139.40,216.20 139.60,216.20 139.80,216.20 139.99,216.20 140.19,216.20 140.39,216.20 140.59,216.20 140.79,216.20 140.99,216.20 141.19,216.20 141.38,216.20 141.58,216.20 141.78,216.20 141.98,216.20 142.18,216.20 142.38,216.20 142.58,216.20 142.77,216.20 142.97,216.20 143.17,216.20 143.37,216.20 143.57,216.20 143.77,216.20 143.96,216.20 144.16,216.20 144.36,216.20 144.56,216.20 144.76,216.20 144.96,216.20 145.16,216.20 145.35,216.20 145.55,216.20 145.75,216.20 145.95,216.20 146.15,216.20 146.35,216.20 146.54,216.20 146.74,216.20 146.94,216.20 147.14,216.20 147.34,216.20 147.54,216.20 147.74,216.20 147.93,216.20 148.13,216.20 148.33,216.20 148.53,216.20 148.73,216.20 148.93,216.20 149.13,216.20 149.32,216.20 149.52,216.20 149.72,216.20 149.92,216.20 150.12,216.20 150.32,216.20 150.51,216.20 150.71,216.20 150.91,216.20 151.11,216.20 151.31,216.20 151.51,216.20 151.71,216.20 151.90,216.20 152.10,216.20 152.30,216.20 152.50,216.20" fill="none" stroke="#f39a4c" stroke-width="1"/>
<rect x="71.54" y="177.40" width="2.80" height="2.80" fill="#f39a4c" />
<rect x="86.31" y="202.40" width="2.80" height="2.80" fill="#f39a4c" />
<rect x="134.66" y="196.60" width="2.80" height="2.80" fill="#f39a4c" />
<polyline points="33.40,261.20 33.60,261.20 33.80,261.20 34.00,261.20 34.19,261.20 34.39,261.20 34.59,261.20 34.79,261.20 34.99,261.20 35.19,261.20 35.38,261.20 35.58,261.20 35.78,261.20 35.98,261.20 36.18,261.20 36.38,261.20 36.58,261.20 36.77,261.20 36.97,261.20 37.17,261.20 37.37,261.20 37.57,261.20 37.77,261.20 37.97,261.20 38.16,261.20 38.36,261.20 38.56,261.20 38.76,261.20 38.96,261.20 39.16,261.20 39.35,261.20 39.55,261.20 39.75,261.20 39.95,261.20 40.15,261.20 40.35,261.20 40.55,261.20 40.74,261.20 40.94,261.20 41.14,261.20 41.34,261.20 41.54,261.20 41.74,261.20 41.94,261.20 42.13,261.20 42.33,261.20 42.53,261.20 42.73,261.20 42.93,261.20 43.13,261.20 43.33,261.20 43.52,261.20 43.72,261.20 43.92,261.20 44.12,261.20 44.32,261.20 44.52,261.20 44.71,261.20 44.91,261.20 45.11,261.20 45.31,261.20 45.51,261.20 45.71,261.20 45.91,261.20 46.10,261.20 46.30,261.20 46.50,261.20 46.70,261.19 46.90,261.16 47.10,260.96 47.29,260.21 47.49,258.15 47.69,254.20 47.89,249.12 48.09,245.56 48.29,246.01 48.49,250.12 48.68,255.13 48.88,258.71 49.08,260.43 49.28,261.02 49.48,261.17 49.68,261.20 49.88,261.20 50.07,261.20 50.27,261.20 50.47,261.20 50.67,261.20 50.87,261.20 51.07,261.20 51.27,261.20 51.46,261.20 51.66,261.20 51.86,261.20 52.06,261.20 52.26,261.20 52.46,261.20 52.65,261.20 52.85,261.20 53.05,261.20 53.25,261.20 53.45,261.20 53.65,261.20 53.85,261.20 54.04,261.20 54.24,261.20 54.44,261.20 54.64,261.20 54.84,261.20 55.04,261.20 55.23,261.20 55.43,261.20 55.63,261.20 55.83,261.20 56.03,261.20 56.23,261.20 56.43,261.20 56.62,261.20 56.82,261.20 57.02,261.20 57.22,261.18 57.42,261.03 57.62,260.35 57.82,257.91 58.01,251.70 58.21,240.58 58.41,227.61 58.61,220.14 58.81,223.52 59.01,235.25 59.20,247.79 59.40,256.00 59.60,259.69 59.80,260.87 60.00,261.15 60.20,261.19 60.40,261.20 60.59,261.20 60.79,261.20 60.99,261.20 61.19,261.20 61.39,261.20 61.59,261.20 61.79,261.20 61.98,261.20 62.18,261.20 62.38,261.20 62.58,261.20 62.78,261.20 62.98,261.20 63.17,261.20 63.37,261.20 63.57,261.20 63.77,261.20 63.97,261.20 64.17,261.20 64.37,261.20 64.56,261.20 64.76,261.20 64.96,261.20 65.16,261.20 65.36,261.20 65.56,261.20 65.76,261.20 65.95,261.20 66.15,261.20 66.35,261.20 66.55,261.20 66.75,261.20 66.95,261.20 67.14,261.20 67.34,261.20 67.54,261.20 67.74,261.20 67.94,261.20 68.14,261.20 68.34,261.20 68.53,261.20 68.73,261.20 68.93,261.20 69.13,261.20 69.33,261.20 69.53,261.20 69.73,261.20 69.92,261.20 70.12,261.20 70.32,261.20 70.52,261.20 70.72,261.20 70.92,261.20 71.12,261.20 71.31,261.20 71.51,261.19 71.71,261.13 71.91,260.84 72.11,259.82 72.31,257.20 72.50,252.51 72.70,247.05 72.90,243.90 73.10,245.33 73.30,250.27 73.50,255.55 73.70,259.01 73.89,260.56 74.09,261.06 74.29,261.18 74.49,261.20 74.69,261.20 74.89,261.20 75.08,261.20 75.28,261.20 75.48,261.20 75.68,261.20 75.88,261.20 76.08,261.20 76.28,261.20 76.47,261.20 76.67,261.20 76.87,261.20 77.07,261.20 77.27,261.20 77.47,261.20 77.67,261.20 77.86,261.20 78.06,261.20 78.26,261.20 78.46,261.20 78.66,261.20 78.86,261.20 79.06,261.20 79.25,261.20 79.45,261.20 79.65,261.20 79.85,261.20 80.05,261.20 80.25,261.20 80.44,261.20 80.64,261.20 80.84,261.20 81.04,261.20 81.24,261.20 81.44,261.20 81.64,261.20 81.83,261.20 82.03,261.20 82.23,261.20 82.43,261.20 82.63,261.20 82.83,261.20 83.02,261.20 83.22,261.20 83.42,261.20 83.62,261.20 83.82,261.20 84.02,261.20 84.22,261.20 84.41,261.20 84.61,261.20 84.81,261.20 85.01,261.20 85.21,261.20 85.41,261.20 85.61,261.20 85.80,261.20 86.00,261.20 86.20,261.20 86.40,261.19 86.60,261.13 86.80,260.90 86.99,260.23 87.19,258.85 87.39,256.91 87.59,255.31 87.79,255.14 87.99,256.52 88.19,258.49 88.38,260.02 88.58,260.81 88.78,261.11 88.98,261.18 89.18,261.20 89.38,261.20 89.58,261.20 89.77,261.20 89.97,261.20 90.17,261.20 90.37,261.20 90.57,261.20 90.77,261.20 90.97,261.20 91.16,261.19 91.36,261.16 91.56,260.95 91.76,260.06 91.96,257.30 92.16,251.13 92.35,241.73 92.55,232.92 92.75,230.38 92.95,235.99 93.15,245.72 93.35,254.07 93.55,258.73 93.74,260.56 93.94,261.08 94.14,261.18 94.34,261.20 94.54,261.20 94.74,261.20 94.93,261.20 95.13,261.20 95.33,261.20 95.53,261.20 95.73,261.20 95.93,261.20 96.13,261.20 96.32,261.20 96.52,261.20 96.72,261.20 96.92,261.20 97.12,261.20 97.32,261.20 97.52,261.20 97.71,261.20 97.91,261.20 98.11,261.20 98.31,261.20 98.51,261.20 98.71,261.20 98.91,261.20 99.10,261.20 99.30,261.20 99.50,261.20 99.70,261.20 99.90,261.20 100.10,261.20 100.29,261.20 100.49,261.20 100.69,261.20 100.89,261.20 101.09,261.20 101.29,261.20 101.49,261.20 101.68,261.20 101.88,261.20 102.08,261.20 102.28,261.20 102.48,261.20 102.68,261.20 102.88,261.20 103.07,261.20 103.27,261.20 103.47,261.20 103.67,261.20 103.87,261.20 104.07,261.20 104.26,261.20 104.46,261.20 104.66,261.20 104.86,261.20 105.06,261.20 105.26,261.20 105.46,261.20 105.65,261.20 105.85,261.20 106.05,261.20 106.25,261.20 106.45,261.20 106.65,261.20 106.84,261.20 107.04,261.20 107.24,261.20 107.44,261.20 107.64,261.20 107.84,261.20 108.04,261.20 108.23,261.20 108.43,261.20 108.63,261.20 108.83,261.20 109.03,261.20 109.23,261.20 109.43,261.20 109.62,261.20 109.82,261.20 110.02,261.20 110.22,261.20 110.42,261.20 110.62,261.20 110.81,261.20 111.01,261.20 111.21,261.20 111.41,261.18 111.61,261.09 111.81,260.74 112.01,259.72 112.20,257.60 112.40,254.62 112.60,252.18 112.80,251.92 113.00,254.03 113.20,257.04 113.40,259.39 113.59,260.61 113.79,261.06 113.99,261.17 114.19,261.20 114.39,261.20 114.59,261.20 114.78,261.20 114.98,261.20 115.18,261.20 115.38,261.20 115.58,261.20 115.78,261.20 115.98,261.20 116.17,261.20 116.37,261.20 116.57,261.20 116.77,261.20 116.97,261.20 117.17,261.20 117.37,261.20 117.56,261.20 117.76,261.20 117.96,261.20 118.16,261.20 118.36,261.17 118.56,261.04 118.75,260.55 118.95,259.22 119.15,256.65 119.35,253.35 119.55,251.04 119.75,251.32 119.95,254.00 120.14,257.26 120.34,259.58 120.54,260.70 120.74,261.08 120.94,261.18 121.14,261.20 121.34,261.20 121.53,261.20 121.73,261.20 121.93,261.20 122.13,261.20 122.33,261.20 122.53,261.20 122.72,261.20 122.92,261.20 123.12,261.20 123.32,261.20 123.52,261.20 123.72,261.20 123.92,261.20 124.11,261.20 124.31,261.20 124.51,261.20 124.71,261.20 124.91,261.20 125.11,261.20 125.31,261.20 125.50,261.20 125.70,261.20 125.90,261.20 126.10,261.20 126.30,261.20 126.50,261.20 126.69,261.20 126.89,261.20 127.09,261.20 127.29,261.20 127.49,261.20 127.69,261.20 127.89,261.20 128.08,261.20 128.28,261.20 128.48,261.20 128.68,261.20 128.88,261.20 129.08,261.20 129.28,261.20 129.47,261.20 129.67,261.20 129.87,261.20 130.07,261.20 130.27,261.20 130.47,261.20 130.66,261.20 130.86,261.20 131.06,261.20 131.26,261.20 131.46,261.20 131.66,261.20 131.86,261.20 132.05,261.20 132.25,261.20 132.45,261.20 132.65,261.20 132.85,261.20 133.05,261.20 133.25,261.20 133.44,261.20 133.64,261.20 133.84,261.20 134.04,261.20 134.24,261.20 134.44,261.20 134.63,261.20 134.83,261.19 135.03,261.14 135.23,260.89 135.43,259.94 135.63,257.35 135.83,252.36 136.02,245.95 136.22,241.46 136.42,242.02 136.62,247.21 136.82,253.54 137.02,258.05 137.22,260.23 137.41,260.98 137.61,261.16 137.81,261.19 138.01,261.20 138.21,261.20 138.41,261.20 138.60,261.20 138.80,261.20 139.00,261.20 139.20,261.20 139.40,261.20 139.60,261.20 139.80,261.20 139.99,261.20 140.19,261.20 140.39,261.20 140.59,261.20 140.79,261.20 140.99,261.20 141.19,261.20 141.38,261.20 141.58,261.20 141.78,261.20 141.98,261.20 142.18,261.19 142.38,261.14 142.58,260.94 142.77,260.40 142.97,259.36 143.17,258.03 143.37,257.10 143.57,257.21 143.77,258.29 143.96,259.61 144.16,260.55 144.36,261.00 144.56,261.15 144.76,261.19 144.96,261.20 145.16,261.20 145.35,261.20 145.55,261.20 145.75,261.20 145.95,261.20 146.15,261.20 146.35,261.20 146.54,261.20 146.74,261.20 146.94,261.20 147.14,261.20 147.34,261.20 147.54,261.20 147.74,261.20 147.93,261.20 148.13,261.20 148.33,261.20 148.53,261.20 148.73,261.20 148.93,261.20 149.13,261.20 149.32,261.20 149.52,261.20 149.72,261.20 149.92,261.20 150.12,261.20 150.32,261.20 150.51,261.20 150.71,261.20 150.91,261.20 151.11,261.20 151.31,261.20 151.51,261.20 151.71,261.20 151.90,261.20 152.10,261.20 152.30,261.20 152.50,261.20" fill="none" stroke="#6aaed6" stroke-width="1"/>
<polygon points="48.17,244.20 48.64,245.45 49.98,245.51 48.93,246.35 49.29,247.64 48.17,246.90 47.05,247.64 47.41,246.35 46.36,245.51 47.70,245.45" fill="#6aaed6"/>
<polygon points="58.65,219.00 59.12,220.25 60.46,220.31 59.41,221.15 59.77,222.44 58.65,221.70 57.53,222.44 57.89,221.15 56.84,220.31 58.18,220.25" fill="#6aaed6"/>
<polygon points="92.71,229.30 93.18,230.55 94.52,230.61 93.47,231.45 93.83,232.74 92.71,232.00 91.60,232.74 91.95,231.45 90.90,230.61 92.24,230.55" fill="#6aaed6"/>
<polygon points="112.72,250.70 113.19,251.95 114.53,252.01 113.48,252.85 113.84,254.14 112.72,253.40 111.60,254.14 111.96,252.85 110.91,252.01 112.25,251.95" fill="#6aaed6"/>
<polygon points="119.63,249.80 120.10,251.05 121.44,251.11 120.39,251.95 120.75,253.24 119.63,252.50 118.51,253.24 118.87,251.95 117.82,251.11 119.16,251.05" fill="#6aaed6"/>
<polygon points="143.45,256.00 143.92,257.25 145.26,257.31 144.21,258.15 144.57,259.44 143.45,258.70 142.33,259.44 142.69,258.15 141.64,257.31 142.98,257.25" fill="#6aaed6"/>
<rect x="71.54" y="242.40" width="2.80" height="2.80" fill="#f39a4c" />
<rect x="86.31" y="253.60" width="2.80" height="2.80" fill="#f39a4c" />
<rect x="134.90" y="239.60" width="2.80" height="2.80" fill="#f39a4c" />
<rect x="37.60" y="175.00" width="2.80" height="2.80" fill="#f39a4c" />
<text transform="translate(43.00,176.40) scale(0.89,1)" y="2.48" font-size="7.2" text-anchor="start" fill="#231f20" stroke="#231f20" stroke-width="0.16" >Ag</text>
<polygon points="39.00,185.00 39.47,186.25 40.81,186.31 39.76,187.15 40.12,188.44 39.00,187.70 37.88,188.44 38.24,187.15 37.19,186.31 38.53,186.25" fill="#6aaed6"/>
<text transform="translate(43.00,186.20) scale(0.89,1)" y="2.48" font-size="7.2" text-anchor="start" fill="#231f20" stroke="#231f20" stroke-width="0.16" >AgCl</text>
<text transform="translate(151.80,187.80)" y="2.55" font-size="7.4" text-anchor="end" fill="#f39a4c" stroke="#f39a4c" stroke-width="0.16" textLength="32.4" lengthAdjust="spacingAndGlyphs" >Electrode A</text>
<text transform="translate(151.80,230.00)" y="2.55" font-size="7.4" text-anchor="end" fill="#6aaed6" stroke="#6aaed6" stroke-width="0.16" textLength="32" lengthAdjust="spacingAndGlyphs" >Electrode B</text>
<text x="159.5" y="164.5" font-size="13" font-weight="bold" fill="#000">e</text>
<line x1="202.30" y1="170.20" x2="202.30" y2="270.00" stroke="#231f20" stroke-width="0.9" />
<line x1="201.90" y1="269.60" x2="401.00" y2="269.60" stroke="#444" stroke-width="0.9" />
<line x1="199.50" y1="269.60" x2="202.30" y2="269.60" stroke="#231f20" stroke-width="0.8" />
<line x1="200.70" y1="257.21" x2="202.30" y2="257.21" stroke="#231f20" stroke-width="0.8" />
<line x1="199.50" y1="244.83" x2="202.30" y2="244.83" stroke="#231f20" stroke-width="0.8" />
<line x1="200.70" y1="232.44" x2="202.30" y2="232.44" stroke="#231f20" stroke-width="0.8" />
<line x1="199.50" y1="220.05" x2="202.30" y2="220.05" stroke="#231f20" stroke-width="0.8" />
<line x1="200.70" y1="207.66" x2="202.30" y2="207.66" stroke="#231f20" stroke-width="0.8" />
<line x1="199.50" y1="195.28" x2="202.30" y2="195.28" stroke="#231f20" stroke-width="0.8" />
<line x1="200.70" y1="182.89" x2="202.30" y2="182.89" stroke="#231f20" stroke-width="0.8" />
<line x1="199.50" y1="170.50" x2="202.30" y2="170.50" stroke="#231f20" stroke-width="0.8" />
<text transform="translate(195.40,269.60) scale(0.86,1)" y="2.75" font-size="8" text-anchor="end" fill="#231f20" stroke="#231f20" stroke-width="0.16" >0</text>
<text transform="translate(195.40,244.83) scale(0.86,1)" y="2.75" font-size="8" text-anchor="end" fill="#231f20" stroke="#231f20" stroke-width="0.16" >2</text>
<text transform="translate(195.40,220.05) scale(0.86,1)" y="2.75" font-size="8" text-anchor="end" fill="#231f20" stroke="#231f20" stroke-width="0.16" >4</text>
<text transform="translate(195.40,195.28) scale(0.86,1)" y="2.75" font-size="8" text-anchor="end" fill="#231f20" stroke="#231f20" stroke-width="0.16" >6</text>
<text transform="translate(195.40,170.50) scale(0.86,1)" y="2.75" font-size="8" text-anchor="end" fill="#231f20" stroke="#231f20" stroke-width="0.16" >8</text>
<line x1="202.40" y1="269.60" x2="202.40" y2="272.20" stroke="#231f20" stroke-width="0.8" />
<line x1="227.16" y1="269.60" x2="227.16" y2="271.20" stroke="#231f20" stroke-width="0.8" />
<line x1="251.93" y1="269.60" x2="251.93" y2="272.20" stroke="#231f20" stroke-width="0.8" />
<line x1="276.69" y1="269.60" x2="276.69" y2="271.20" stroke="#231f20" stroke-width="0.8" />
<line x1="301.45" y1="269.60" x2="301.45" y2="272.20" stroke="#231f20" stroke-width="0.8" />
<line x1="326.21" y1="269.60" x2="326.21" y2="271.20" stroke="#231f20" stroke-width="0.8" />
<line x1="350.98" y1="269.60" x2="350.98" y2="272.20" stroke="#231f20" stroke-width="0.8" />
<line x1="375.74" y1="269.60" x2="375.74" y2="271.20" stroke="#231f20" stroke-width="0.8" />
<line x1="400.50" y1="269.60" x2="400.50" y2="272.20" stroke="#231f20" stroke-width="0.8" />
<text transform="translate(202.40,282.10) scale(0.86,1)" y="2.75" font-size="8" text-anchor="middle" fill="#231f20" stroke="#231f20" stroke-width="0.16" >0</text>
<text transform="translate(251.93,282.10) scale(0.86,1)" y="2.75" font-size="8" text-anchor="middle" fill="#231f20" stroke="#231f20" stroke-width="0.16" >4</text>
<text transform="translate(301.45,282.10) scale(0.86,1)" y="2.75" font-size="8" text-anchor="middle" fill="#231f20" stroke="#231f20" stroke-width="0.16" >8</text>
<text transform="translate(350.98,282.10) scale(0.86,1)" y="2.75" font-size="8" text-anchor="middle" fill="#231f20" stroke="#231f20" stroke-width="0.16" >12</text>
<text transform="translate(400.50,282.10) scale(0.86,1)" y="2.75" font-size="8" text-anchor="middle" fill="#231f20" stroke="#231f20" stroke-width="0.16" >16</text>
<text transform="translate(300.80,294.60)" y="2.89" font-size="8.4" text-anchor="middle" fill="#231f20" stroke="#231f20" stroke-width="0.16" textLength="46.4" lengthAdjust="spacingAndGlyphs" >Cycle number</text>
<text transform="translate(179.00,223.00) rotate(-90)" y="2.89" font-size="8.4" text-anchor="middle" fill="#231f20" stroke="#231f20" stroke-width="0.16" textLength="67.3" lengthAdjust="spacingAndGlyphs" >Transferred charge (C)</text>
<circle cx="211.70" cy="172.60" r="1.90" fill="#6aafd6" />
<text transform="translate(218.70,172.90)" y="2.20" font-size="6.4" text-anchor="start" fill="#231f20" stroke="#231f20" stroke-width="0.16" textLength="42.3" lengthAdjust="spacingAndGlyphs" >5 M / 0.5 M HCl</text>
<rect x="209.90" y="177.80" width="4.00" height="4.00" fill="#f6a962" />
<text transform="translate(218.70,179.60)" y="2.20" font-size="6.4" text-anchor="start" fill="#231f20" stroke="#231f20" stroke-width="0.16" textLength="45.3" lengthAdjust="spacingAndGlyphs" >5 M / 0.5 M NaCl</text>
<circle cx="214.78" cy="200.60" r="1.95" fill="#6aafd6" />
<circle cx="227.16" cy="203.30" r="1.95" fill="#6aafd6" />
<circle cx="239.54" cy="200.60" r="1.95" fill="#6aafd6" />
<circle cx="251.93" cy="200.60" r="1.95" fill="#6aafd6" />
<circle cx="264.31" cy="202.00" r="1.95" fill="#6aafd6" />
<circle cx="276.69" cy="203.30" r="1.95" fill="#6aafd6" />
<circle cx="289.07" cy="202.50" r="1.95" fill="#6aafd6" />
<circle cx="301.45" cy="202.10" r="1.95" fill="#6aafd6" />
<circle cx="313.83" cy="204.00" r="1.95" fill="#6aafd6" />
<circle cx="326.21" cy="203.30" r="1.95" fill="#6aafd6" />
<circle cx="338.59" cy="199.40" r="1.95" fill="#6aafd6" />
<circle cx="350.98" cy="199.60" r="1.95" fill="#6aafd6" />
<circle cx="363.36" cy="199.20" r="1.95" fill="#6aafd6" />
<circle cx="375.74" cy="200.40" r="1.95" fill="#6aafd6" />
<circle cx="388.12" cy="200.10" r="1.95" fill="#6aafd6" />
<rect x="212.88" y="258.70" width="3.80" height="3.80" fill="#f6a962" />
<rect x="225.26" y="258.40" width="3.80" height="3.80" fill="#f6a962" />
<rect x="237.64" y="258.00" width="3.80" height="3.80" fill="#f6a962" />
<rect x="250.03" y="258.00" width="3.80" height="3.80" fill="#f6a962" />
<rect x="262.41" y="258.00" width="3.80" height="3.80" fill="#f6a962" />
<rect x="274.79" y="258.00" width="3.80" height="3.80" fill="#f6a962" />
<rect x="287.17" y="257.70" width="3.80" height="3.80" fill="#f6a962" />
<rect x="299.55" y="258.90" width="3.80" height="3.80" fill="#f6a962" />
<rect x="311.93" y="259.40" width="3.80" height="3.80" fill="#f6a962" />
<rect x="324.31" y="258.00" width="3.80" height="3.80" fill="#f6a962" />
<rect x="336.69" y="258.40" width="3.80" height="3.80" fill="#f6a962" />
<rect x="349.08" y="258.70" width="3.80" height="3.80" fill="#f6a962" />
<rect x="361.46" y="258.10" width="3.80" height="3.80" fill="#f6a962" />
<rect x="373.84" y="258.30" width="3.80" height="3.80" fill="#f6a962" />
<rect x="386.22" y="258.30" width="3.80" height="3.80" fill="#f6a962" />
<text x="410.4" y="164.3" font-size="13" font-weight="bold" fill="#000">f</text>
<line x1="460.00" y1="169.40" x2="460.00" y2="270.20" stroke="#231f20" stroke-width="0.9" />
<line x1="459.60" y1="269.80" x2="584.00" y2="269.80" stroke="#231f20" stroke-width="0.9" />
<line x1="457.20" y1="264.60" x2="460.00" y2="264.60" stroke="#231f20" stroke-width="0.8" />
<line x1="458.40" y1="252.81" x2="460.00" y2="252.81" stroke="#231f20" stroke-width="0.8" />
<line x1="457.20" y1="241.03" x2="460.00" y2="241.03" stroke="#231f20" stroke-width="0.8" />
<line x1="458.40" y1="229.24" x2="460.00" y2="229.24" stroke="#231f20" stroke-width="0.8" />
<line x1="457.20" y1="217.45" x2="460.00" y2="217.45" stroke="#231f20" stroke-width="0.8" />
<line x1="458.40" y1="205.66" x2="460.00" y2="205.66" stroke="#231f20" stroke-width="0.8" />
<line x1="457.20" y1="193.88" x2="460.00" y2="193.88" stroke="#231f20" stroke-width="0.8" />
<line x1="458.40" y1="182.09" x2="460.00" y2="182.09" stroke="#231f20" stroke-width="0.8" />
<line x1="457.20" y1="170.30" x2="460.00" y2="170.30" stroke="#231f20" stroke-width="0.8" />
<text transform="translate(451.20,264.60) scale(0.86,1)" y="2.75" font-size="8" text-anchor="end" fill="#231f20" stroke="#231f20" stroke-width="0.16" >0.0</text>
<text transform="translate(451.20,241.03) scale(0.86,1)" y="2.75" font-size="8" text-anchor="end" fill="#231f20" stroke="#231f20" stroke-width="0.16" >0.5</text>
<text transform="translate(451.20,217.45) scale(0.86,1)" y="2.75" font-size="8" text-anchor="end" fill="#231f20" stroke="#231f20" stroke-width="0.16" >1.0</text>
<text transform="translate(451.20,193.88) scale(0.86,1)" y="2.75" font-size="8" text-anchor="end" fill="#231f20" stroke="#231f20" stroke-width="0.16" >1.5</text>
<text transform="translate(451.20,170.30) scale(0.86,1)" y="2.75" font-size="8" text-anchor="end" fill="#231f20" stroke="#231f20" stroke-width="0.16" >2.0</text>
<line x1="460.23" y1="269.80" x2="460.23" y2="271.40" stroke="#231f20" stroke-width="0.8" />
<line x1="472.50" y1="269.80" x2="472.50" y2="272.40" stroke="#231f20" stroke-width="0.8" />
<line x1="484.77" y1="269.80" x2="484.77" y2="271.40" stroke="#231f20" stroke-width="0.8" />
<line x1="497.05" y1="269.80" x2="497.05" y2="272.40" stroke="#231f20" stroke-width="0.8" />
<line x1="509.33" y1="269.80" x2="509.33" y2="271.40" stroke="#231f20" stroke-width="0.8" />
<line x1="521.60" y1="269.80" x2="521.60" y2="272.40" stroke="#231f20" stroke-width="0.8" />
<line x1="533.88" y1="269.80" x2="533.88" y2="271.40" stroke="#231f20" stroke-width="0.8" />
<line x1="546.15" y1="269.80" x2="546.15" y2="272.40" stroke="#231f20" stroke-width="0.8" />
<line x1="558.43" y1="269.80" x2="558.43" y2="271.40" stroke="#231f20" stroke-width="0.8" />
<line x1="570.70" y1="269.80" x2="570.70" y2="272.40" stroke="#231f20" stroke-width="0.8" />
<text transform="translate(472.50,281.90) scale(0.86,1)" y="2.75" font-size="8" text-anchor="middle" fill="#231f20" stroke="#231f20" stroke-width="0.16" >0</text>
<text transform="translate(497.05,281.90) scale(0.86,1)" y="2.75" font-size="8" text-anchor="middle" fill="#231f20" stroke="#231f20" stroke-width="0.16" >5</text>
<text transform="translate(521.60,281.90) scale(0.86,1)" y="2.75" font-size="8" text-anchor="middle" fill="#231f20" stroke="#231f20" stroke-width="0.16" >10</text>
<text transform="translate(546.15,281.90) scale(0.86,1)" y="2.75" font-size="8" text-anchor="middle" fill="#231f20" stroke="#231f20" stroke-width="0.16" >15</text>
<text transform="translate(570.70,281.90) scale(0.86,1)" y="2.75" font-size="8" text-anchor="middle" fill="#231f20" stroke="#231f20" stroke-width="0.16" >20</text>
<text transform="translate(531.80,294.30)" y="2.89" font-size="8.4" text-anchor="middle" fill="#231f20" stroke="#231f20" stroke-width="0.16" textLength="34.8" lengthAdjust="spacingAndGlyphs" >Time (min)</text>
<text transform="translate(427.70,219.50) rotate(-90)" y="2.89" font-size="8.4" text-anchor="middle" fill="#231f20" stroke="#231f20" stroke-width="0.16" textLength="100.2" lengthAdjust="spacingAndGlyphs" >Permeate concentration (mM)</text>
<circle cx="469.40" cy="173.90" r="1.90" fill="#6aafd6" />
<text transform="translate(475.00,173.90)" y="2.41" font-size="7" text-anchor="start" fill="#231f20" stroke="#231f20" stroke-width="0.16" textLength="67" lengthAdjust="spacingAndGlyphs" >With Ag/AgCl electrode</text>
<rect x="467.60" y="181.10" width="3.60" height="3.60" fill="#f5a04a" />
<text transform="translate(475.00,182.90)" y="2.41" font-size="7" text-anchor="start" fill="#231f20" stroke="#231f20" stroke-width="0.16" textLength="76.8" lengthAdjust="spacingAndGlyphs" >Without Ag/AgCl electrode</text>
<polyline points="472.50,264.60 497.05,245.74 521.60,226.88 546.15,208.96 570.70,192.93" fill="none" stroke="#6aafd6" stroke-width="0.9"/>
<polyline points="472.50,264.60 497.05,256.82 521.60,250.93 546.15,244.80 570.70,239.14" fill="none" stroke="#f5a04a" stroke-width="0.9"/>
<circle cx="472.50" cy="264.60" r="2.20" fill="#6aafd6" />
<line x1="497.05" y1="240.08" x2="497.05" y2="251.40" stroke="#a9d0ea" stroke-width="0.8" />
<circle cx="497.05" cy="245.74" r="2.20" fill="#6aafd6" />
<line x1="521.60" y1="218.39" x2="521.60" y2="235.37" stroke="#a9d0ea" stroke-width="0.8" />
<circle cx="521.60" cy="226.88" r="2.20" fill="#6aafd6" />
<line x1="546.15" y1="195.76" x2="546.15" y2="222.17" stroke="#a9d0ea" stroke-width="0.8" />
<circle cx="546.15" cy="208.96" r="2.20" fill="#6aafd6" />
<line x1="570.70" y1="177.37" x2="570.70" y2="208.49" stroke="#a9d0ea" stroke-width="0.8" />
<circle cx="570.70" cy="192.93" r="2.20" fill="#6aafd6" />
<rect x="470.50" y="262.60" width="4.00" height="4.00" fill="#f5a04a" />
<line x1="497.05" y1="255.88" x2="497.05" y2="257.76" stroke="#f8c08a" stroke-width="0.8" />
<rect x="495.05" y="254.82" width="4.00" height="4.00" fill="#f5a04a" />
<line x1="521.60" y1="249.51" x2="521.60" y2="252.34" stroke="#f8c08a" stroke-width="0.8" />
<rect x="519.60" y="248.93" width="4.00" height="4.00" fill="#f5a04a" />
<line x1="546.15" y1="242.44" x2="546.15" y2="247.15" stroke="#f8c08a" stroke-width="0.8" />
<rect x="544.15" y="242.80" width="4.00" height="4.00" fill="#f5a04a" />
<line x1="570.70" y1="235.37" x2="570.70" y2="242.91" stroke="#f8c08a" stroke-width="0.8" />
<rect x="568.70" y="237.14" width="4.00" height="4.00" fill="#f5a04a" />
<line x1="583.80" y1="194.50" x2="614.50" y2="194.50" stroke="#6aafd6" stroke-width="0.9" />
<path d="M613.5,192.6 L617.8,194.5 L613.5,196.4 Z" fill="#6aafd6" stroke="none" stroke-width="1" />
<line x1="583.50" y1="245.00" x2="614.50" y2="245.00" stroke="#f5a04a" stroke-width="0.9" />
<path d="M613.5,243.1 L617.8,245 L613.5,246.9 Z" fill="#f5a04a" stroke="none" stroke-width="1" />
<text x="-0.6" y="319.9" font-size="13" font-weight="bold" fill="#000">g</text>
<line x1="48.20" y1="322.00" x2="48.20" y2="422.40" stroke="#555" stroke-width="0.9" />
<line x1="47.80" y1="422.00" x2="295.60" y2="422.00" stroke="#555" stroke-width="0.9" />
<line x1="45.40" y1="422.05" x2="48.20" y2="422.05" stroke="#555" stroke-width="0.8" />
<line x1="46.60" y1="409.68" x2="48.20" y2="409.68" stroke="#555" stroke-width="0.8" />
<line x1="45.40" y1="397.30" x2="48.20" y2="397.30" stroke="#555" stroke-width="0.8" />
<line x1="46.60" y1="384.93" x2="48.20" y2="384.93" stroke="#555" stroke-width="0.8" />
<line x1="45.40" y1="372.55" x2="48.20" y2="372.55" stroke="#555" stroke-width="0.8" />
<line x1="46.60" y1="360.18" x2="48.20" y2="360.18" stroke="#555" stroke-width="0.8" />
<line x1="45.40" y1="347.80" x2="48.20" y2="347.80" stroke="#555" stroke-width="0.8" />
<line x1="46.60" y1="335.43" x2="48.20" y2="335.43" stroke="#555" stroke-width="0.8" />
<line x1="45.40" y1="323.05" x2="48.20" y2="323.05" stroke="#555" stroke-width="0.8" />
<text transform="translate(40.20,422.05) scale(0.86,1)" y="2.75" font-size="8" text-anchor="end" fill="#231f20" stroke="#231f20" stroke-width="0.16" >-0.2</text>
<text transform="translate(40.20,397.30) scale(0.86,1)" y="2.75" font-size="8" text-anchor="end" fill="#231f20" stroke="#231f20" stroke-width="0.16" >0.0</text>
<text transform="translate(40.20,372.55) scale(0.86,1)" y="2.75" font-size="8" text-anchor="end" fill="#231f20" stroke="#231f20" stroke-width="0.16" >0.2</text>
<text transform="translate(40.20,347.80) scale(0.86,1)" y="2.75" font-size="8" text-anchor="end" fill="#231f20" stroke="#231f20" stroke-width="0.16" >0.4</text>
<text transform="translate(40.20,323.05) scale(0.86,1)" y="2.75" font-size="8" text-anchor="end" fill="#231f20" stroke="#231f20" stroke-width="0.16" >0.6</text>
<line x1="47.80" y1="422.00" x2="47.80" y2="423.60" stroke="#555" stroke-width="0.8" />
<line x1="72.60" y1="422.00" x2="72.60" y2="424.60" stroke="#555" stroke-width="0.8" />
<line x1="97.40" y1="422.00" x2="97.40" y2="423.60" stroke="#555" stroke-width="0.8" />
<line x1="122.20" y1="422.00" x2="122.20" y2="424.60" stroke="#555" stroke-width="0.8" />
<line x1="147.00" y1="422.00" x2="147.00" y2="423.60" stroke="#555" stroke-width="0.8" />
<line x1="171.80" y1="422.00" x2="171.80" y2="424.60" stroke="#555" stroke-width="0.8" />
<line x1="196.60" y1="422.00" x2="196.60" y2="423.60" stroke="#555" stroke-width="0.8" />
<line x1="221.40" y1="422.00" x2="221.40" y2="424.60" stroke="#555" stroke-width="0.8" />
<line x1="246.20" y1="422.00" x2="246.20" y2="423.60" stroke="#555" stroke-width="0.8" />
<line x1="271.00" y1="422.00" x2="271.00" y2="424.60" stroke="#555" stroke-width="0.8" />
<line x1="295.80" y1="422.00" x2="295.80" y2="423.60" stroke="#555" stroke-width="0.8" />
<text transform="translate(72.60,432.20) scale(0.86,1)" y="2.75" font-size="8" text-anchor="middle" fill="#231f20" stroke="#231f20" stroke-width="0.16" >-0.3</text>
<text transform="translate(122.20,432.20) scale(0.86,1)" y="2.75" font-size="8" text-anchor="middle" fill="#231f20" stroke="#231f20" stroke-width="0.16" >-0.2</text>
<text transform="translate(171.80,432.20) scale(0.86,1)" y="2.75" font-size="8" text-anchor="middle" fill="#231f20" stroke="#231f20" stroke-width="0.16" >-0.1</text>
<text transform="translate(221.40,432.20) scale(0.86,1)" y="2.75" font-size="8" text-anchor="middle" fill="#231f20" stroke="#231f20" stroke-width="0.16" >0.0</text>
<text transform="translate(271.00,432.20) scale(0.86,1)" y="2.75" font-size="8" text-anchor="middle" fill="#231f20" stroke="#231f20" stroke-width="0.16" >0.1</text>
<text transform="translate(164.75,444.00)" y="2.89" font-size="8.4" text-anchor="middle" fill="#231f20" stroke="#231f20" stroke-width="0.16" textLength="35.9" lengthAdjust="spacingAndGlyphs" >Voltage (V)</text>
<text transform="translate(17.40,372.20) rotate(-90)" y="2.89" font-size="8.4" text-anchor="middle" fill="#231f20" stroke="#231f20" stroke-width="0.16" textLength="44.4" lengthAdjust="spacingAndGlyphs" >Current (mA)</text>
<circle cx="107.50" cy="397.30" r="4.00" fill="#9cc9e8" filter="url(#bl)" opacity="0.7"/>
<circle cx="126.00" cy="397.30" r="4.00" fill="#f8c79a" filter="url(#bl)" opacity="0.7"/>
<circle cx="166.30" cy="397.30" r="4.00" fill="#f4a8a8" filter="url(#bl)" opacity="0.7"/>
<circle cx="183.30" cy="397.30" r="4.00" fill="#bdbdbd" filter="url(#bl)" opacity="0.7"/>
<line x1="48.20" y1="397.30" x2="295.60" y2="397.30" stroke="#333" stroke-width="0.8" stroke-dasharray="2.6,2.2"/>
<line x1="221.40" y1="322.00" x2="221.40" y2="422.00" stroke="#333" stroke-width="0.8" stroke-dasharray="2.6,2.2"/>
<line x1="68.20" y1="422.00" x2="230.70" y2="322.40" stroke="#5aaee0" stroke-width="0.9" />
<line x1="87.40" y1="422.00" x2="245.30" y2="322.40" stroke="#f7a54c" stroke-width="0.9" />
<line x1="119.10" y1="422.00" x2="295.40" y2="329.00" stroke="#f07a78" stroke-width="0.9" />
<line x1="139.60" y1="422.00" x2="295.40" y2="336.40" stroke="#808080" stroke-width="0.9" />
<line x1="56.80" y1="327.20" x2="66.40" y2="327.20" stroke="#808080" stroke-width="0.9" />
<text transform="translate(70.80,327.20)" y="2.61" font-size="7.6" text-anchor="start" fill="#231f20" stroke="#231f20" stroke-width="0.16" textLength="50.2" lengthAdjust="spacingAndGlyphs" >0.05 M / 0.01 M</text>
<line x1="56.80" y1="336.30" x2="66.40" y2="336.30" stroke="#f07a78" stroke-width="0.9" />
<text transform="translate(70.80,336.30)" y="2.61" font-size="7.6" text-anchor="start" fill="#231f20" stroke="#231f20" stroke-width="0.16" textLength="46.4" lengthAdjust="spacingAndGlyphs" >0.1 M / 0.01 M</text>
<line x1="56.80" y1="345.40" x2="66.40" y2="345.40" stroke="#f7a54c" stroke-width="0.9" />
<text transform="translate(70.80,345.40)" y="2.61" font-size="7.6" text-anchor="start" fill="#231f20" stroke="#231f20" stroke-width="0.16" textLength="46.4" lengthAdjust="spacingAndGlyphs" >0.5 M / 0.01 M</text>
<line x1="56.80" y1="354.30" x2="66.40" y2="354.30" stroke="#5aaee0" stroke-width="0.9" />
<text transform="translate(70.80,354.30)" y="2.61" font-size="7.6" text-anchor="start" fill="#231f20" stroke="#231f20" stroke-width="0.16" textLength="40.2" lengthAdjust="spacingAndGlyphs" >1 M / 0.01 M</text>
<text x="320.8" y="320.5" font-size="13" font-weight="bold" fill="#000">h</text>
<line x1="376.20" y1="323.00" x2="376.20" y2="422.40" stroke="#231f20" stroke-width="0.9" />
<line x1="375.80" y1="422.20" x2="673.30" y2="422.20" stroke="#231f20" stroke-width="0.9" />
<line x1="373.40" y1="421.90" x2="376.20" y2="421.90" stroke="#231f20" stroke-width="0.8" />
<line x1="374.60" y1="407.85" x2="376.20" y2="407.85" stroke="#231f20" stroke-width="0.8" />
<line x1="373.40" y1="393.80" x2="376.20" y2="393.80" stroke="#231f20" stroke-width="0.8" />
<line x1="374.60" y1="379.75" x2="376.20" y2="379.75" stroke="#231f20" stroke-width="0.8" />
<line x1="373.40" y1="365.70" x2="376.20" y2="365.70" stroke="#231f20" stroke-width="0.8" />
<line x1="374.60" y1="351.65" x2="376.20" y2="351.65" stroke="#231f20" stroke-width="0.8" />
<line x1="373.40" y1="337.60" x2="376.20" y2="337.60" stroke="#231f20" stroke-width="0.8" />
<line x1="374.60" y1="323.55" x2="376.20" y2="323.55" stroke="#231f20" stroke-width="0.8" />
<text transform="translate(368.90,421.90) scale(0.86,1)" y="2.75" font-size="8" text-anchor="end" fill="#231f20" stroke="#231f20" stroke-width="0.16" >0</text>
<text transform="translate(368.90,393.80) scale(0.86,1)" y="2.75" font-size="8" text-anchor="end" fill="#231f20" stroke="#231f20" stroke-width="0.16" >100</text>
<text transform="translate(368.90,365.70) scale(0.86,1)" y="2.75" font-size="8" text-anchor="end" fill="#231f20" stroke="#231f20" stroke-width="0.16" >200</text>
<text transform="translate(368.90,337.60) scale(0.86,1)" y="2.75" font-size="8" text-anchor="end" fill="#231f20" stroke="#231f20" stroke-width="0.16" >300</text>
<text transform="translate(342.50,376.20) rotate(-90)" y="2.89" font-size="8.4" text-anchor="middle" fill="#231f20" stroke="#231f20" stroke-width="0.16" textLength="47.3" lengthAdjust="spacingAndGlyphs" >Potential (mV)</text>
<text transform="translate(517.95,444.40)" y="2.89" font-size="8.4" text-anchor="middle" fill="#231f20" stroke="#231f20" stroke-width="0.16" textLength="100.1" lengthAdjust="spacingAndGlyphs" >Electrolyte concentration ratio</text>
<rect x="383.10" y="357.27" width="30.3" height="64.63" fill="#f5a5a2" stroke="#f08d8b" stroke-width="0.5"/>
<rect x="413.40" y="358.11" width="29.4" height="63.79" fill="#93c9e6" stroke="#79b6dc" stroke-width="0.5"/>
<text transform="translate(413.40,432.30) scale(0.86,1)" y="2.75" font-size="8" text-anchor="middle" fill="#231f20" stroke="#231f20" stroke-width="0.16" >100</text>
<circle cx="424.00" cy="358.11" r="1" fill="#dfe6ea" stroke="#444" stroke-width="0.5"/>
<circle cx="432.50" cy="355.51" r="1" fill="#fff" stroke="#444" stroke-width="0.5"/>
<circle cx="432.50" cy="360.01" r="1" fill="#dfe6ea" stroke="#444" stroke-width="0.5"/>
<line x1="428.40" y1="355.71" x2="428.40" y2="359.91" stroke="#444" stroke-width="0.5" />
<line x1="427.40" y1="355.71" x2="429.40" y2="355.71" stroke="#444" stroke-width="0.5" />
<line x1="427.40" y1="359.91" x2="429.40" y2="359.91" stroke="#444" stroke-width="0.5" />
<rect x="457.30" y="368.23" width="30.3" height="53.67" fill="#f5a5a2" stroke="#f08d8b" stroke-width="0.5"/>
<rect x="487.60" y="369.63" width="29.4" height="52.27" fill="#93c9e6" stroke="#79b6dc" stroke-width="0.5"/>
<text transform="translate(487.60,432.30) scale(0.86,1)" y="2.75" font-size="8" text-anchor="middle" fill="#231f20" stroke="#231f20" stroke-width="0.16" >50</text>
<circle cx="498.20" cy="369.63" r="1" fill="#dfe6ea" stroke="#444" stroke-width="0.5"/>
<circle cx="506.70" cy="367.03" r="1" fill="#fff" stroke="#444" stroke-width="0.5"/>
<circle cx="506.70" cy="371.53" r="1" fill="#dfe6ea" stroke="#444" stroke-width="0.5"/>
<line x1="502.60" y1="367.23" x2="502.60" y2="371.43" stroke="#444" stroke-width="0.5" />
<line x1="501.60" y1="367.23" x2="503.60" y2="367.23" stroke="#444" stroke-width="0.5" />
<line x1="501.60" y1="371.43" x2="503.60" y2="371.43" stroke="#444" stroke-width="0.5" />
<rect x="531.30" y="390.71" width="30.3" height="31.19" fill="#f5a5a2" stroke="#f08d8b" stroke-width="0.5"/>
<rect x="561.60" y="390.43" width="29.4" height="31.47" fill="#93c9e6" stroke="#79b6dc" stroke-width="0.5"/>
<text transform="translate(561.60,432.30) scale(0.86,1)" y="2.75" font-size="8" text-anchor="middle" fill="#231f20" stroke="#231f20" stroke-width="0.16" >10</text>
<circle cx="572.20" cy="390.43" r="1" fill="#dfe6ea" stroke="#444" stroke-width="0.5"/>
<circle cx="580.70" cy="387.83" r="1" fill="#fff" stroke="#444" stroke-width="0.5"/>
<circle cx="580.70" cy="392.33" r="1" fill="#dfe6ea" stroke="#444" stroke-width="0.5"/>
<line x1="576.60" y1="388.03" x2="576.60" y2="392.23" stroke="#444" stroke-width="0.5" />
<line x1="575.60" y1="388.03" x2="577.60" y2="388.03" stroke="#444" stroke-width="0.5" />
<line x1="575.60" y1="392.23" x2="577.60" y2="392.23" stroke="#444" stroke-width="0.5" />
<rect x="605.30" y="399.98" width="30.3" height="21.92" fill="#f5a5a2" stroke="#f08d8b" stroke-width="0.5"/>
<rect x="635.60" y="399.70" width="29.4" height="22.20" fill="#93c9e6" stroke="#79b6dc" stroke-width="0.5"/>
<text transform="translate(635.60,432.30) scale(0.86,1)" y="2.75" font-size="8" text-anchor="middle" fill="#231f20" stroke="#231f20" stroke-width="0.16" >5</text>
<circle cx="646.20" cy="399.70" r="1" fill="#dfe6ea" stroke="#444" stroke-width="0.5"/>
<circle cx="654.70" cy="397.10" r="1" fill="#fff" stroke="#444" stroke-width="0.5"/>
<circle cx="654.70" cy="401.60" r="1" fill="#dfe6ea" stroke="#444" stroke-width="0.5"/>
<line x1="650.60" y1="397.30" x2="650.60" y2="401.50" stroke="#444" stroke-width="0.5" />
<line x1="649.60" y1="397.30" x2="651.60" y2="397.30" stroke="#444" stroke-width="0.5" />
<line x1="649.60" y1="401.50" x2="651.60" y2="401.50" stroke="#444" stroke-width="0.5" />
<rect x="381.80" y="327.30" width="11.70" height="5.60" fill="#f5a5a2" stroke="#f08d8b" stroke-width="0.4"/>
<rect x="381.80" y="335.00" width="11.70" height="5.60" fill="#93c9e6" stroke="#79b6dc" stroke-width="0.4"/>
<text transform="translate(395.00,329.60)" y="2.55" font-size="7.4" text-anchor="start" fill="#231f20" stroke="#231f20" stroke-width="0.16" textLength="77.7" lengthAdjust="spacingAndGlyphs" >Theoretical predicted value</text>
<text transform="translate(395.00,338.20)" y="2.55" font-size="7.4" text-anchor="start" fill="#231f20" stroke="#231f20" stroke-width="0.16" textLength="59" lengthAdjust="spacingAndGlyphs" >Open-circuit voltage</text>
<rect x="303.20" y="91.70" width="15.70" height="12.40" fill="#f2eae3"/>
<polygon points="305.55,86.10 318.90,86.10 318.90,91.70 303.20,91.70" fill="#dadada" stroke="#b4b4b4" stroke-width="0.4"/>
<polygon points="306.09,87.00 318.36,87.00 318.36,91.70 304.01,91.70" fill="url(#liqB)"/>
<line x1="303.20" y1="91.70" x2="318.90" y2="91.70" stroke="#d6d2ce" stroke-width="0.5" />
<rect x="319.70" y="91.70" width="16.10" height="12.40" fill="#f2eae3"/>
<polygon points="319.70,86.10 333.45,86.10 335.80,91.70 319.70,91.70" fill="#dadada" stroke="#b4b4b4" stroke-width="0.4"/>
<polygon points="320.24,87.00 332.91,87.00 334.99,91.70 320.24,91.70" fill="url(#liqT)"/>
<line x1="319.70" y1="91.70" x2="335.80" y2="91.70" stroke="#d6d2ce" stroke-width="0.5" />
<line x1="319.30" y1="91.70" x2="319.30" y2="99.14" stroke="#d5a5a0" stroke-width="0.6" />
<path d="M311.70,87.22 V79.20 H326.30 V87.22" fill="none" stroke="#a0a0a0" stroke-width="0.6" />
<rect x="311.05" y="84.90" width="1.30" height="6.40" fill="#6a6a6a" />
<rect x="325.65" y="84.90" width="1.30" height="6.40" fill="#6a6a6a" />
<text transform="translate(310.20,108.20) scale(0.89,1)" y="1.93" font-size="5.6" text-anchor="middle" fill="#333" stroke="#333" stroke-width="0.1" >5 M</text>
<text transform="translate(310.20,114.60) scale(0.89,1)" y="1.93" font-size="5.6" text-anchor="middle" fill="#333" stroke="#333" stroke-width="0.1" >HCl</text>
<text transform="translate(327.00,108.20) scale(0.89,1)" y="1.93" font-size="5.6" text-anchor="middle" fill="#333" stroke="#333" stroke-width="0.1" >DI</text>
<text transform="translate(327.00,114.60) scale(0.89,1)" y="1.93" font-size="5.6" text-anchor="middle" fill="#333" stroke="#333" stroke-width="0.1" >water</text>
<rect x="293.10" y="174.40" width="15.00" height="11.70" fill="#f2eae3"/>
<polygon points="295.37,169.00 308.10,169.00 308.10,174.40 293.10,174.40" fill="#dadada" stroke="#b4b4b4" stroke-width="0.4"/>
<polygon points="295.89,169.86 307.58,169.86 307.58,174.40 293.88,174.40" fill="url(#liqB)"/>
<line x1="293.10" y1="174.40" x2="308.10" y2="174.40" stroke="#d6d2ce" stroke-width="0.5" />
<rect x="308.90" y="174.40" width="15.10" height="11.70" fill="#f2eae3"/>
<polygon points="308.90,169.00 321.73,169.00 324.00,174.40 308.90,174.40" fill="#dadada" stroke="#b4b4b4" stroke-width="0.4"/>
<polygon points="309.42,169.86 321.21,169.86 323.22,174.40 309.42,174.40" fill="url(#liqB2)"/>
<line x1="308.90" y1="174.40" x2="324.00" y2="174.40" stroke="#d6d2ce" stroke-width="0.5" />
<line x1="308.50" y1="174.40" x2="308.50" y2="181.42" stroke="#d5a5a0" stroke-width="0.6" />
<path d="M300.90,170.08 V162.20 H314.70 V170.08" fill="none" stroke="#a0a0a0" stroke-width="0.6" />
<rect x="300.25" y="167.80" width="1.30" height="6.20" fill="#6a6a6a" />
<rect x="314.05" y="167.80" width="1.30" height="6.20" fill="#6a6a6a" />
<text transform="translate(301.10,189.80) scale(0.89,1)" y="1.93" font-size="5.6" text-anchor="middle" fill="#333" stroke="#333" stroke-width="0.1" >5 M</text>
<text transform="translate(301.10,196.60) scale(0.89,1)" y="1.93" font-size="5.6" text-anchor="middle" fill="#333" stroke="#333" stroke-width="0.1" >HCl</text>
<text transform="translate(316.50,189.80) scale(0.89,1)" y="1.93" font-size="5.6" text-anchor="middle" fill="#333" stroke="#333" stroke-width="0.1" >0.5 M</text>
<text transform="translate(316.50,196.60) scale(0.89,1)" y="1.93" font-size="5.6" text-anchor="middle" fill="#333" stroke="#333" stroke-width="0.1" >HCl</text>
<rect x="292.70" y="229.20" width="15.10" height="11.80" fill="#f2eae3"/>
<polygon points="294.93,223.90 307.80,223.90 307.80,229.20 292.70,229.20" fill="#dadada" stroke="#b4b4b4" stroke-width="0.4"/>
<polygon points="295.43,224.75 307.29,224.75 307.29,229.20 293.46,229.20" fill="url(#liqB)"/>
<line x1="292.70" y1="229.20" x2="307.80" y2="229.20" stroke="#d6d2ce" stroke-width="0.5" />
<rect x="308.60" y="229.20" width="14.90" height="11.80" fill="#f2eae3"/>
<polygon points="308.60,223.90 321.27,223.90 323.50,229.20 308.60,229.20" fill="#dadada" stroke="#b4b4b4" stroke-width="0.4"/>
<polygon points="309.11,224.75 320.77,224.75 322.74,229.20 309.11,229.20" fill="url(#liqB2)"/>
<line x1="308.60" y1="229.20" x2="323.50" y2="229.20" stroke="#d6d2ce" stroke-width="0.5" />
<line x1="308.20" y1="229.20" x2="308.20" y2="236.28" stroke="#d5a5a0" stroke-width="0.6" />
<path d="M300.70,224.96 V217.20 H314.50 V224.96" fill="none" stroke="#a0a0a0" stroke-width="0.6" />
<rect x="300.05" y="222.70" width="1.30" height="6.10" fill="#6a6a6a" />
<rect x="313.85" y="222.70" width="1.30" height="6.10" fill="#6a6a6a" />
<text transform="translate(300.80,246.00) scale(0.89,1)" y="1.93" font-size="5.6" text-anchor="middle" fill="#333" stroke="#333" stroke-width="0.1" >5 M</text>
<text transform="translate(300.80,252.80) scale(0.89,1)" y="1.93" font-size="5.6" text-anchor="middle" fill="#333" stroke="#333" stroke-width="0.1" >NaCl</text>
<text transform="translate(316.30,246.00) scale(0.89,1)" y="1.93" font-size="5.6" text-anchor="middle" fill="#333" stroke="#333" stroke-width="0.1" >0.5 M</text>
<text transform="translate(316.30,252.80) scale(0.89,1)" y="1.93" font-size="5.6" text-anchor="middle" fill="#333" stroke="#333" stroke-width="0.1" >NaCl</text>
<rect x="627.60" y="186.60" width="22.70" height="18.20" fill="#efeae6"/>
<polygon points="631.04,178.40 650.30,178.40 650.30,186.60 627.60,186.60" fill="#dadada" stroke="#b4b4b4" stroke-width="0.4"/>
<polygon points="631.83,179.71 649.51,179.71 649.51,186.60 628.78,186.60" fill="url(#liqB)"/>
<line x1="627.60" y1="186.60" x2="650.30" y2="186.60" stroke="#d6d2ce" stroke-width="0.5" />
<rect x="651.10" y="186.60" width="22.80" height="18.20" fill="#efeae6"/>
<polygon points="651.10,178.40 670.46,178.40 673.90,186.60 651.10,186.60" fill="#dadada" stroke="#b4b4b4" stroke-width="0.4"/>
<polygon points="651.89,179.71 669.67,179.71 672.72,186.60 651.89,186.60" fill="url(#liqT)"/>
<line x1="651.10" y1="186.60" x2="673.90" y2="186.60" stroke="#d6d2ce" stroke-width="0.5" />
<line x1="650.70" y1="186.60" x2="650.70" y2="197.52" stroke="#d5a5a0" stroke-width="0.6" />
<path d="M639.80,180.04 V168.90 H660.50 V180.04" fill="none" stroke="#a0a0a0" stroke-width="0.6" />
<rect x="639.15" y="177.20" width="1.30" height="9.00" fill="#6a6a6a" />
<rect x="659.85" y="177.20" width="1.30" height="9.00" fill="#6a6a6a" />
<text transform="translate(638.60,211.40) scale(0.89,1)" y="1.93" font-size="5.6" text-anchor="middle" fill="#333" stroke="#333" stroke-width="0.1" >5 M</text>
<text transform="translate(638.60,218.10) scale(0.89,1)" y="1.93" font-size="5.6" text-anchor="middle" fill="#333" stroke="#333" stroke-width="0.1" >HCl</text>
<text transform="translate(663.60,211.40) scale(0.89,1)" y="1.93" font-size="5.6" text-anchor="middle" fill="#333" stroke="#333" stroke-width="0.1" >0.5 M</text>
<text transform="translate(663.60,218.10) scale(0.89,1)" y="1.93" font-size="5.6" text-anchor="middle" fill="#333" stroke="#333" stroke-width="0.1" >NaCl</text>
<rect x="629.00" y="243.20" width="23.10" height="17.90" fill="#eeeae7"/>
<polygon points="631.98,236.10 652.10,236.10 652.10,243.20 629.00,243.20" fill="#dadada" stroke="#b4b4b4" stroke-width="0.4"/>
<polygon points="632.66,237.24 651.42,237.24 651.42,243.20 630.02,243.20" fill="url(#liqB)"/>
<line x1="629.00" y1="243.20" x2="652.10" y2="243.20" stroke="#d6d2ce" stroke-width="0.5" />
<rect x="652.90" y="243.20" width="22.50" height="17.90" fill="#eeeae7"/>
<polygon points="652.90,236.10 672.42,236.10 675.40,243.20 652.90,243.20" fill="#dadada" stroke="#b4b4b4" stroke-width="0.4"/>
<polygon points="653.58,237.24 671.74,237.24 674.38,243.20 653.58,243.20" fill="url(#liqT)"/>
<line x1="652.90" y1="243.20" x2="675.40" y2="243.20" stroke="#d6d2ce" stroke-width="0.5" />
<line x1="652.50" y1="243.20" x2="652.50" y2="253.94" stroke="#d5a5a0" stroke-width="0.6" />
<text transform="translate(640.60,268.30) scale(0.89,1)" y="1.93" font-size="5.6" text-anchor="middle" fill="#333" stroke="#333" stroke-width="0.1" >5 M</text>
<text transform="translate(640.60,274.90) scale(0.89,1)" y="1.93" font-size="5.6" text-anchor="middle" fill="#333" stroke="#333" stroke-width="0.1" >HCl</text>
<text transform="translate(665.60,268.30) scale(0.89,1)" y="1.93" font-size="5.6" text-anchor="middle" fill="#333" stroke="#333" stroke-width="0.1" >0.5 M</text>
<text transform="translate(665.60,274.90) scale(0.89,1)" y="1.93" font-size="5.6" text-anchor="middle" fill="#333" stroke="#333" stroke-width="0.1" >NaCl</text>
</svg></body></html>
